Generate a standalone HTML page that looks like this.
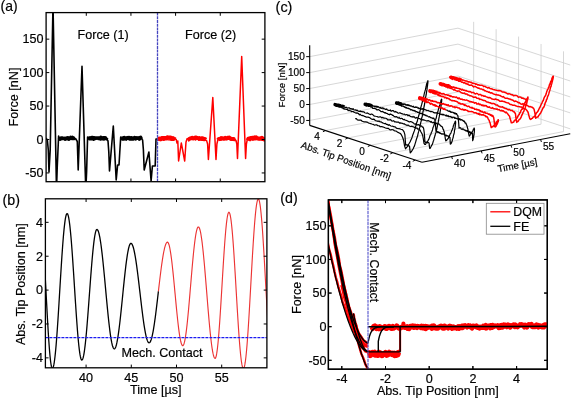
<!DOCTYPE html>
<html><head><meta charset="utf-8"><style>
html,body{margin:0;padding:0;background:#fff;}
svg{display:block;will-change:transform;}
text{font-family:"Liberation Sans", sans-serif;stroke:currentColor;stroke-width:0.18px;}
</style></head><body>
<svg width="571" height="399" viewBox="0 0 571 399">
<rect width="571" height="399" fill="#fff"/>
<clipPath id="ca"><rect x="46.1" y="12.6" width="218.79999999999998" height="169.1"/></clipPath>
<g clip-path="url(#ca)">
<path d="M45.6 138 L47.3 139.5 L48.3 150 L49 172 L50.2 150 L53 5 L56.5 190 L57.2 168 L58.6 136 L59.2 137.68 L59.8 138.29 L60.4 137.94 L61 138.41 L61.6 138.45 L62.2 137.33 L62.8 137.23 L63.4 138.87 L64 137.72 L64.6 137.67 L65.2 139.19 L65.8 138.14 L66.4 138.87 L67 138.15 L67.6 138.48 L68.2 137.5 L68.8 138.47 L69.4 138.94 L70 138.25 L70.6 138.68 L71.2 138.54 L71.8 137.33 L72.4 138.72 L73 138.38 L73.6 137.8 L74.2 137.26 L74.8 138.93 L75.5 138.5 L77.3 141.5 L78.2 170 L82 66.3 L85.8 190 L86.6 172 L87.6 137 L88.2 138.15 L88.8 138.64 L89.4 138.96 L90 138.63 L90.6 139.04 L91.2 137.99 L91.8 138.8 L92.4 138.09 L93 139.07 L93.6 138.96 L94.2 137.39 L94.8 137.47 L95.4 137.63 L96 139.13 L96.6 138.07 L97.2 138.45 L97.8 137.8 L98.4 138.21 L99 137.97 L99.6 137.9 L100.2 138.37 L100.8 138.37 L101.4 139.01 L102 138.56 L102.6 139.06 L103.2 138.91 L103.8 139.18 L104.4 138.54 L105 137.53 L105.6 138.92 L106.2 139.13 L106.8 139.01 L108 141 L108.8 152 L109.5 171 L113.3 126 L116.2 180 L117.6 165 L119 165 L120.7 137 L121.3 138.34 L121.9 138.63 L122.5 137.62 L123.1 138.86 L123.7 138.35 L124.3 137.77 L124.9 137.33 L125.5 138.91 L126.1 139.18 L126.7 137.38 L127.3 138.8 L127.9 138.02 L128.5 137.5 L129.1 137.79 L129.7 138.74 L130.3 138.95 L130.9 137.29 L131.5 138.43 L132.1 137.29 L132.7 138.64 L133.3 137.86 L133.9 138.96 L134.5 139.16 L135.1 138.21 L135.7 139.2 L136.3 137.82 L136.9 137.35 L137.5 138.4 L138.1 137.26 L138.7 137.59 L139.3 138.02 L139.9 138.42 L140.5 137.51 L141.1 137.28 L141.7 138.94 L142.6 140 L143.4 150 L144.2 170 L148.9 152 L151.1 181 L152.4 166 L155.2 166 L156 139 L157.6 139" fill="none" stroke="#000" stroke-width="1.6" stroke-linejoin="round" />
<path d="M59.3 137.96 L59.9 139.13 L60.5 139.01 L61.1 138.08 L61.7 138.23 L62.3 138.34 L62.9 138.56 L63.5 138.47 L64.1 138.41 L64.7 138.52 L65.3 139.09 L65.9 138.31 L66.5 138.18 L67.1 138.7 L67.7 137.83 L68.3 137.94 L68.9 139.16 L69.5 138.34 L70.1 138.39 L70.7 137.42 L71.3 138.15 L71.9 138.44 L72.5 137.44 L73.1 138.51 L73.7 138.54 L74.3 137.51" fill="none" stroke="#000" stroke-width="3.6" stroke-linejoin="round" />
<path d="M88.3 138.53 L88.9 138.24 L89.5 138.62 L90.1 138.03 L90.7 138.67 L91.3 138.73 L91.9 137.44 L92.5 137.51 L93.1 138.62 L93.7 139.13 L94.3 137.85 L94.9 138.22 L95.5 138.47 L96.1 137.98 L96.7 138.06 L97.3 137.96 L97.9 138.06 L98.5 138.47 L99.1 137.94 L99.7 138.08 L100.3 138.79 L100.9 137.45 L101.5 138.42 L102.1 138.72 L102.7 137.96 L103.3 137.8 L103.9 138.85 L104.5 137.83 L105.1 137.74 L105.7 138.18 L106.3 138.66 L106.9 137.58" fill="none" stroke="#000" stroke-width="3.6" stroke-linejoin="round" />
<path d="M121.4 137.98 L122 138 L122.6 138.9 L123.2 138.19 L123.8 138.94 L124.4 137.7 L125 138.01 L125.6 138.57 L126.2 138.99 L126.8 138.21 L127.4 137.81 L128 137.62 L128.6 138.35 L129.2 137.74 L129.8 138.85 L130.4 138.91 L131 137.73 L131.6 137.9 L132.2 138.85 L132.8 138.56 L133.4 138.85 L134 138.02 L134.6 137.63 L135.2 137.93 L135.8 138.83 L136.4 137.89 L137 138.02 L137.6 138.15 L138.2 138.16 L138.8 138.14 L139.4 139.06 L140 137.68 L140.6 137.41 L141.2 139.1" fill="none" stroke="#000" stroke-width="3.6" stroke-linejoin="round" />
<path d="M157.8 139 L158.4 139.99 L160 140.27 L161.6 138.83 L163.2 140.17 L164.8 140.11 L166.4 138.28 L168 139.64 L169.6 139.88 L171.2 139.42 L172.8 139.05 L174.4 138.45 L176.2 139.5 L177 143 L177.8 141 L178.6 161 L181.3 143 L184.7 161 L186 142 L187 139 L187.6 138.79 L189.2 138.49 L190.8 138.08 L192.4 139.43 L194 138.65 L195.6 140.01 L197.2 138.02 L198.8 140.25 L200.4 139.7 L202 140.3 L203.6 140.23 L205.2 140.24 L206.6 140.6 L207.6 144 L208.4 159.4 L212.8 97.5 L216 159.4 L216.9 144 L217.8 140 L218.4 139.4 L220 137.93 L221.6 139.84 L223.2 138.35 L224.8 138.68 L226.4 139.62 L228 139.26 L229.6 138.98 L231.2 140.34 L232.8 139.49 L234.4 138.79 L236 140.5 L236.8 144 L237.5 158.5 L241.7 56.5 L245.6 158.5 L246.4 144 L247.3 139.5 L247.8 138.36 L249.4 139.94 L251 138.94 L252.6 139.73 L254.2 138.61 L255.8 138.21 L257.4 139.09 L259 139.82 L260.6 138.15 L262.2 139.76 L263.8 140.1 L265.4 139.8" fill="none" stroke="#f00" stroke-width="1.5" stroke-linejoin="round" />
<path d="M158.6 140.65 L159.4 138.67 L160.2 139.2 L161 139.27 L161.8 137.94 L162.6 138.08 L163.4 137.95 L164.2 138.21 L165 137.98 L165.8 138 L166.6 138.39 L167.4 137.3 L168.2 137.4 L169 137.54 L169.8 137.6 L170.6 137.61 L171.4 139 L172.2 138.98 L173 138.08 L173.8 138.89 L174.6 138.92 L175.4 139.35" fill="none" stroke="#f00" stroke-width="4.0" stroke-linejoin="round" />
<path d="M187.4 139.99 L188.2 139.61 L189 139.2 L189.8 138.64 L190.6 138.2 L191.4 138.24 L192.2 137.82 L193 138.31 L193.8 138.45 L194.6 137.91 L195.4 137.45 L196.2 137.56 L197 137.82 L197.8 138.16 L198.6 138.44 L199.4 137.93 L200.2 138.59 L201 138.43 L201.8 138.28 L202.6 138.33 L203.4 138.68 L204.2 139.17 L205 139.03 L205.8 139.78" fill="none" stroke="#f00" stroke-width="4.0" stroke-linejoin="round" />
<path d="M218 140.15 L218.8 139.02 L219.6 139.1 L220.4 139.07 L221.2 138 L222 138.33 L222.8 138.2 L223.6 138.73 L224.4 138.73 L225.2 137.88 L226 138.57 L226.8 138.41 L227.6 137.67 L228.4 137.98 L229.2 137.55 L230 138.59 L230.8 138.47 L231.6 138.91 L232.4 138.92 L233.2 138.93 L234 139.24 L234.8 139.29 L235.6 139.06" fill="none" stroke="#f00" stroke-width="4.0" stroke-linejoin="round" />
<path d="M247.6 140.32 L248.4 138.68 L249.2 138.54 L250 139.18 L250.8 137.96 L251.6 137.86 L252.4 137.74 L253.2 138.73 L254 137.66 L254.8 137.38 L255.6 138.49 L256.4 137.47 L257.2 138.49 L258 138.28 L258.8 138.56 L259.6 138.79 L260.4 138.37 L261.2 138.8 L262 137.88 L262.8 139.09 L263.6 138.96 L264.4 139.54 L265.2 139.14" fill="none" stroke="#f00" stroke-width="4.0" stroke-linejoin="round" />
</g>
<line x1="157.5" y1="12.6" x2="157.5" y2="181.7" stroke="#4646c0" stroke-width="1.3" stroke-dasharray="3 0.7"/>
<rect x="46.1" y="12.6" width="218.8" height="169.1" fill="none" stroke="#000" stroke-width="1.3"/>
<line x1="86.29" y1="181.7" x2="86.29" y2="178.5" stroke="#000" stroke-width="1.0" />
<line x1="86.29" y1="12.6" x2="86.29" y2="15.8" stroke="#000" stroke-width="1.0" />
<line x1="130.94" y1="181.7" x2="130.94" y2="178.5" stroke="#000" stroke-width="1.0" />
<line x1="130.94" y1="12.6" x2="130.94" y2="15.8" stroke="#000" stroke-width="1.0" />
<line x1="175.59" y1="181.7" x2="175.59" y2="178.5" stroke="#000" stroke-width="1.0" />
<line x1="175.59" y1="12.6" x2="175.59" y2="15.8" stroke="#000" stroke-width="1.0" />
<line x1="220.25" y1="181.7" x2="220.25" y2="178.5" stroke="#000" stroke-width="1.0" />
<line x1="220.25" y1="12.6" x2="220.25" y2="15.8" stroke="#000" stroke-width="1.0" />
<line x1="46.1" y1="39.15" x2="49.3" y2="39.15" stroke="#000" stroke-width="1.0" />
<line x1="264.9" y1="39.15" x2="261.7" y2="39.15" stroke="#000" stroke-width="1.0" />
<line x1="46.1" y1="72.6" x2="49.3" y2="72.6" stroke="#000" stroke-width="1.0" />
<line x1="264.9" y1="72.6" x2="261.7" y2="72.6" stroke="#000" stroke-width="1.0" />
<line x1="46.1" y1="106.05" x2="49.3" y2="106.05" stroke="#000" stroke-width="1.0" />
<line x1="264.9" y1="106.05" x2="261.7" y2="106.05" stroke="#000" stroke-width="1.0" />
<line x1="46.1" y1="139.5" x2="49.3" y2="139.5" stroke="#000" stroke-width="1.0" />
<line x1="264.9" y1="139.5" x2="261.7" y2="139.5" stroke="#000" stroke-width="1.0" />
<line x1="46.1" y1="172.95" x2="49.3" y2="172.95" stroke="#000" stroke-width="1.0" />
<line x1="264.9" y1="172.95" x2="261.7" y2="172.95" stroke="#000" stroke-width="1.0" />
<text x="43.4" y="43.45" font-size="12.6" text-anchor="end" fill="#000" stroke="#000" >150</text>
<text x="43.4" y="76.9" font-size="12.6" text-anchor="end" fill="#000" stroke="#000" >100</text>
<text x="43.4" y="110.35" font-size="12.6" text-anchor="end" fill="#000" stroke="#000" >50</text>
<text x="43.4" y="143.8" font-size="12.6" text-anchor="end" fill="#000" stroke="#000" >0</text>
<text x="43.4" y="177.25" font-size="12.6" text-anchor="end" fill="#000" stroke="#000" >-50</text>
<text x="18" y="97" font-size="12.6" text-anchor="middle" fill="#000" stroke="#000" transform="rotate(-90 18 97)">Force [nN]</text>
<text x="77.6" y="38.9" font-size="12.6" text-anchor="start" fill="#000" stroke="#000" >Force (1)</text>
<text x="185.1" y="38.9" font-size="12.6" text-anchor="start" fill="#000" stroke="#000" >Force (2)</text>
<text x="0.6" y="10.9" font-size="14.2" text-anchor="start" fill="#000" stroke="#000" textLength="17" lengthAdjust="spacingAndGlyphs">(a)</text>
<clipPath id="cb"><rect x="45.4" y="198.8" width="221.49999999999997" height="169.0"/></clipPath>
<g clip-path="url(#cb)">
<path d="M44.5 263.25 L44.86 269.84 L45.22 276.59 L45.58 283.44 L45.94 290.35 L46.3 297.26 L46.67 304.12 L47.03 310.87 L47.39 317.45 L47.75 323.83 L48.11 329.94 L48.47 335.74 L48.84 341.19 L49.2 346.24 L49.56 350.86 L49.92 354.99 L50.28 358.63 L50.64 361.73 L51.01 364.27 L51.37 366.23 L51.73 367.6 L52.09 368.36 L52.45 368.52 L52.81 368.17 L53.18 367.37 L53.54 366.11 L53.9 364.41 L54.26 362.27 L54.62 359.71 L54.98 356.74 L55.34 353.38 L55.71 349.65 L56.07 345.57 L56.43 341.17 L56.79 336.46 L57.15 331.49 L57.51 326.28 L57.88 320.86 L58.24 315.26 L58.6 309.52 L58.96 303.67 L59.32 297.74 L59.68 291.78 L60.05 285.81 L60.41 279.87 L60.77 273.99 L61.13 268.22 L61.49 262.59 L61.85 257.12 L62.22 251.85 L62.58 246.82 L62.94 242.05 L63.3 237.57 L63.66 233.4 L64.02 229.58 L64.39 226.13 L64.75 223.06 L65.11 220.39 L65.47 218.15 L65.83 216.34 L66.19 214.97 L66.56 214.05 L66.92 213.59 L67.28 213.59 L67.64 214.02 L68 214.89 L68.36 216.18 L68.73 217.9 L69.09 220.02 L69.45 222.54 L69.81 225.44 L70.17 228.71 L70.53 232.32 L70.9 236.25 L71.26 240.49 L71.62 245 L71.98 249.76 L72.34 254.74 L72.7 259.9 L73.06 265.23 L73.43 270.69 L73.79 276.24 L74.15 281.86 L74.51 287.5 L74.87 293.14 L75.23 298.75 L75.6 304.28 L75.96 309.71 L76.32 315 L76.68 320.12 L77.04 325.05 L77.4 329.75 L77.77 334.19 L78.13 338.35 L78.49 342.21 L78.85 345.74 L79.21 348.91 L79.57 351.72 L79.94 354.14 L80.3 356.16 L80.66 357.77 L81.02 358.96 L81.38 359.72 L81.74 360.05 L82.11 359.96 L82.47 359.5 L82.83 358.67 L83.19 357.48 L83.55 355.94 L83.91 354.04 L84.28 351.82 L84.64 349.27 L85 346.41 L85.36 343.26 L85.72 339.84 L86.08 336.16 L86.45 332.24 L86.81 328.12 L87.17 323.8 L87.53 319.32 L87.89 314.7 L88.25 309.97 L88.62 305.16 L88.98 300.28 L89.34 295.37 L89.7 290.46 L90.06 285.58 L90.42 280.74 L90.78 275.99 L91.15 271.34 L91.51 266.82 L91.87 262.46 L92.23 258.29 L92.59 254.32 L92.95 250.58 L93.32 247.09 L93.68 243.87 L94.04 240.93 L94.4 238.31 L94.76 236 L95.12 234.02 L95.49 232.39 L95.85 231.11 L96.21 230.19 L96.57 229.64 L96.93 229.45 L97.29 229.58 L97.66 229.97 L98.02 230.6 L98.38 231.49 L98.74 232.62 L99.1 234 L99.46 235.61 L99.83 237.45 L100.19 239.52 L100.55 241.79 L100.91 244.27 L101.27 246.94 L101.63 249.8 L102 252.82 L102.36 255.99 L102.72 259.31 L103.08 262.76 L103.44 266.32 L103.8 269.97 L104.17 273.71 L104.53 277.52 L104.89 281.37 L105.25 285.26 L105.61 289.17 L105.97 293.07 L106.34 296.96 L106.7 300.82 L107.06 304.62 L107.42 308.36 L107.78 312.02 L108.14 315.58 L108.5 319.03 L108.87 322.34 L109.23 325.52 L109.59 328.54 L109.95 331.39 L110.31 334.06 L110.67 336.54 L111.04 338.82 L111.4 340.88 L111.76 342.72 L112.12 344.34 L112.48 345.71 L112.84 346.85 L113.21 347.73 L113.57 348.37 L113.93 348.75 L114.29 348.88 L114.65 348.76 L115.01 348.39 L115.38 347.78 L115.74 346.93 L116.1 345.84 L116.46 344.51 L116.82 342.97 L117.18 341.2 L117.55 339.22 L117.91 337.05 L118.27 334.68 L118.63 332.13 L118.99 329.42 L119.35 326.54 L119.72 323.53 L120.08 320.39 L120.44 317.14 L120.8 313.78 L121.16 310.35 L121.52 306.85 L121.89 303.3 L122.25 299.71 L122.61 296.11 L122.97 292.51 L123.33 288.93 L123.69 285.38 L124.06 281.88 L124.42 278.44 L124.78 275.09 L125.14 271.84 L125.5 268.7 L125.86 265.68 L126.22 262.81 L126.59 260.1 L126.95 257.55 L127.31 255.18 L127.67 253 L128.03 251.03 L128.39 249.26 L128.76 247.71 L129.12 246.39 L129.48 245.3 L129.84 244.45 L130.2 243.84 L130.56 243.47 L130.93 243.35 L131.29 243.44 L131.65 243.73 L132.01 244.22 L132.37 244.89 L132.73 245.76 L133.1 246.8 L133.46 248.03 L133.82 249.44 L134.18 251.01 L134.54 252.75 L134.9 254.65 L135.27 256.69 L135.63 258.88 L135.99 261.21 L136.35 263.65 L136.71 266.21 L137.07 268.88 L137.44 271.64 L137.8 274.49 L138.16 277.41 L138.52 280.38 L138.88 283.41 L139.24 286.48 L139.61 289.57 L139.97 292.68 L140.33 295.78 L140.69 298.88 L141.05 301.95 L141.41 304.99 L141.78 307.98 L142.14 310.92 L142.5 313.78 L142.86 316.57 L143.22 319.26 L143.58 321.85 L143.94 324.32 L144.31 326.68 L144.67 328.9 L145.03 330.98 L145.39 332.92 L145.75 334.7 L146.11 336.32 L146.48 337.76 L146.84 339.04 L147.2 340.13 L147.56 341.04 L147.92 341.76 L148.28 342.29 L148.65 342.63 L149.01 342.78 L149.37 342.73 L149.73 342.49 L150.09 342.06 L150.45 341.43 L150.82 340.62 L151.18 339.63 L151.54 338.45 L151.9 337.1 L152.26 335.58 L152.62 333.89 L152.99 332.05 L153.35 330.05 L153.71 327.91 L154.07 325.63 L154.43 323.23 L154.79 320.71 L155.16 318.08 L155.52 315.35 L155.88 312.53 L156.24 309.64 L156.6 306.68 L156.96 303.67 L157.33 300.61 L157.69 297.52 L158.05 294.42 L158.41 291.3" fill="none" stroke="#000" stroke-width="1.3" stroke-linejoin="round" />
<path d="M158.41 291.3 L158.77 288.19 L159.13 285.1 L159.5 282.04 L159.86 279.01 L160.22 276.04 L160.58 273.13 L160.94 270.29 L161.3 267.54 L161.66 264.89 L162.03 262.34 L162.39 259.9 L162.75 257.59 L163.11 255.41 L163.47 253.38 L163.83 251.5 L164.2 249.77 L164.56 248.2 L164.92 246.81 L165.28 245.59 L165.64 244.55 L166 243.69 L166.37 243.02 L166.73 242.54 L167.09 242.26 L167.45 242.16 L167.81 242.3 L168.17 242.73 L168.54 243.44 L168.9 244.43 L169.26 245.7 L169.62 247.23 L169.98 249.01 L170.34 251.05 L170.71 253.32 L171.07 255.82 L171.43 258.53 L171.79 261.43 L172.15 264.51 L172.51 267.76 L172.88 271.15 L173.24 274.66 L173.6 278.29 L173.96 281.99 L174.32 285.77 L174.68 289.59 L175.05 293.43 L175.41 297.28 L175.77 301.1 L176.13 304.89 L176.49 308.62 L176.85 312.26 L177.22 315.81 L177.58 319.23 L177.94 322.51 L178.3 325.64 L178.66 328.59 L179.02 331.35 L179.38 333.9 L179.75 336.23 L180.11 338.32 L180.47 340.17 L180.83 341.77 L181.19 343.1 L181.55 344.16 L181.92 344.94 L182.28 345.44 L182.64 345.65 L183 345.58 L183.36 345.18 L183.72 344.48 L184.09 343.47 L184.45 342.16 L184.81 340.56 L185.17 338.67 L185.53 336.5 L185.89 334.07 L186.26 331.38 L186.62 328.46 L186.98 325.32 L187.34 321.97 L187.7 318.43 L188.06 314.72 L188.43 310.86 L188.79 306.88 L189.15 302.78 L189.51 298.6 L189.87 294.35 L190.23 290.06 L190.6 285.75 L190.96 281.44 L191.32 277.16 L191.68 272.93 L192.04 268.76 L192.4 264.69 L192.77 260.74 L193.13 256.91 L193.49 253.25 L193.85 249.75 L194.21 246.45 L194.57 243.36 L194.94 240.5 L195.3 237.88 L195.66 235.51 L196.02 233.41 L196.38 231.59 L196.74 230.06 L197.1 228.82 L197.47 227.89 L197.83 227.27 L198.19 226.95 L198.55 226.95 L198.91 227.25 L199.27 227.86 L199.64 228.76 L200 229.96 L200.36 231.45 L200.72 233.22 L201.08 235.26 L201.44 237.57 L201.81 240.13 L202.17 242.93 L202.53 245.97 L202.89 249.22 L203.25 252.67 L203.61 256.3 L203.98 260.1 L204.34 264.05 L204.7 268.13 L205.06 272.33 L205.42 276.62 L205.78 280.98 L206.15 285.4 L206.51 289.85 L206.87 294.32 L207.23 298.77 L207.59 303.2 L207.95 307.58 L208.32 311.89 L208.68 316.11 L209.04 320.22 L209.4 324.21 L209.76 328.05 L210.12 331.72 L210.49 335.22 L210.85 338.52 L211.21 341.61 L211.57 344.47 L211.93 347.1 L212.29 349.47 L212.66 351.58 L213.02 353.42 L213.38 354.98 L213.74 356.25 L214.1 357.22 L214.46 357.9 L214.82 358.28 L215.19 358.35 L215.55 357.98 L215.91 357.12 L216.27 355.78 L216.63 353.96 L216.99 351.68 L217.36 348.95 L217.72 345.79 L218.08 342.22 L218.44 338.27 L218.8 333.96 L219.16 329.32 L219.53 324.39 L219.89 319.19 L220.25 313.76 L220.61 308.15 L220.97 302.37 L221.33 296.48 L221.7 290.52 L222.06 284.52 L222.42 278.53 L222.78 272.58 L223.14 266.72 L223.5 260.98 L223.87 255.4 L224.23 250.03 L224.59 244.9 L224.95 240.03 L225.31 235.48 L225.67 231.25 L226.04 227.4 L226.4 223.93 L226.76 220.87 L227.12 218.25 L227.48 216.09 L227.84 214.38 L228.21 213.16 L228.57 212.42 L228.93 212.18 L229.29 212.42 L229.65 213.14 L230.01 214.34 L230.38 216 L230.74 218.13 L231.1 220.7 L231.46 223.7 L231.82 227.11 L232.18 230.91 L232.54 235.07 L232.91 239.58 L233.27 244.4 L233.63 249.51 L233.99 254.86 L234.35 260.44 L234.71 266.2 L235.08 272.1 L235.44 278.12 L235.8 284.22 L236.16 290.35 L236.52 296.49 L236.88 302.58 L237.25 308.6 L237.61 314.51 L237.97 320.27 L238.33 325.85 L238.69 331.2 L239.05 336.31 L239.42 341.13 L239.78 345.63 L240.14 349.8 L240.5 353.6 L240.86 357.01 L241.22 360.01 L241.59 362.58 L241.95 364.71 L242.31 366.37 L242.67 367.57 L243.03 368.29 L243.39 368.53 L243.76 368.29 L244.12 367.55 L244.48 366.33 L244.84 364.63 L245.2 362.46 L245.56 359.83 L245.93 356.77 L246.29 353.28 L246.65 349.38 L247.01 345.11 L247.37 340.48 L247.73 335.52 L248.1 330.26 L248.46 324.73 L248.82 318.97 L249.18 313 L249.54 306.86 L249.9 300.58 L250.26 294.21 L250.63 287.78 L250.99 281.33 L251.35 274.89 L251.71 268.5 L252.07 262.19 L252.43 256.02 L252.8 250 L253.16 244.18 L253.52 238.59 L253.88 233.26 L254.24 228.23 L254.6 223.51 L254.97 219.15 L255.33 215.16 L255.69 211.56 L256.05 208.39 L256.41 205.65 L256.77 203.37 L257.14 201.55 L257.5 200.2 L257.86 199.35 L258.22 198.98 L258.58 199.1 L258.94 199.74 L259.31 200.87 L259.67 202.49 L260.03 204.6 L260.39 207.18 L260.75 210.22 L261.11 213.69 L261.48 217.59 L261.84 221.89 L262.2 226.55 L262.56 231.56 L262.92 236.89 L263.28 242.5 L263.65 248.36 L264.01 254.44 L264.37 260.71 L264.73 267.12 L265.09 273.64 L265.45 280.24 L265.82 286.86 L266.18 293.49 L266.54 300.06 L266.9 306.56 L267.26 312.94 L267.62 319.16" fill="none" stroke="#ec3434" stroke-width="1.15" stroke-linejoin="round" />
</g>
<line x1="45.4" y1="337.6" x2="266.9" y2="337.6" stroke="#1c1cf0" stroke-width="1.3" stroke-dasharray="3 1"/>
<rect x="45.4" y="198.8" width="221.5" height="169" fill="none" stroke="#000" stroke-width="1.3"/>
<line x1="86.08" y1="367.8" x2="86.08" y2="364.6" stroke="#000" stroke-width="1.0" />
<line x1="86.08" y1="198.8" x2="86.08" y2="202" stroke="#000" stroke-width="1.0" />
<line x1="131.29" y1="367.8" x2="131.29" y2="364.6" stroke="#000" stroke-width="1.0" />
<line x1="131.29" y1="198.8" x2="131.29" y2="202" stroke="#000" stroke-width="1.0" />
<line x1="176.49" y1="367.8" x2="176.49" y2="364.6" stroke="#000" stroke-width="1.0" />
<line x1="176.49" y1="198.8" x2="176.49" y2="202" stroke="#000" stroke-width="1.0" />
<line x1="221.7" y1="367.8" x2="221.7" y2="364.6" stroke="#000" stroke-width="1.0" />
<line x1="221.7" y1="198.8" x2="221.7" y2="202" stroke="#000" stroke-width="1.0" />
<line x1="45.4" y1="222.34" x2="48.6" y2="222.34" stroke="#000" stroke-width="1.0" />
<line x1="266.9" y1="222.34" x2="263.7" y2="222.34" stroke="#000" stroke-width="1.0" />
<line x1="45.4" y1="256.22" x2="48.6" y2="256.22" stroke="#000" stroke-width="1.0" />
<line x1="266.9" y1="256.22" x2="263.7" y2="256.22" stroke="#000" stroke-width="1.0" />
<line x1="45.4" y1="290.1" x2="48.6" y2="290.1" stroke="#000" stroke-width="1.0" />
<line x1="266.9" y1="290.1" x2="263.7" y2="290.1" stroke="#000" stroke-width="1.0" />
<line x1="45.4" y1="323.98" x2="48.6" y2="323.98" stroke="#000" stroke-width="1.0" />
<line x1="266.9" y1="323.98" x2="263.7" y2="323.98" stroke="#000" stroke-width="1.0" />
<line x1="45.4" y1="357.86" x2="48.6" y2="357.86" stroke="#000" stroke-width="1.0" />
<line x1="266.9" y1="357.86" x2="263.7" y2="357.86" stroke="#000" stroke-width="1.0" />
<text x="43" y="226.64" font-size="12.6" text-anchor="end" fill="#000" stroke="#000" >4</text>
<text x="43" y="260.52" font-size="12.6" text-anchor="end" fill="#000" stroke="#000" >2</text>
<text x="43" y="294.4" font-size="12.6" text-anchor="end" fill="#000" stroke="#000" >0</text>
<text x="43" y="328.28" font-size="12.6" text-anchor="end" fill="#000" stroke="#000" >-2</text>
<text x="43" y="362.16" font-size="12.6" text-anchor="end" fill="#000" stroke="#000" >-4</text>
<text x="86.08" y="381.6" font-size="12.6" text-anchor="middle" fill="#000" stroke="#000" >40</text>
<text x="131.29" y="381.6" font-size="12.6" text-anchor="middle" fill="#000" stroke="#000" >45</text>
<text x="176.49" y="381.6" font-size="12.6" text-anchor="middle" fill="#000" stroke="#000" >50</text>
<text x="221.7" y="381.6" font-size="12.6" text-anchor="middle" fill="#000" stroke="#000" >55</text>
<text x="24.8" y="284.2" font-size="12.6" text-anchor="middle" fill="#000" stroke="#000" transform="rotate(-90 24.8 284.2)">Abs. Tip Position [nm]</text>
<text x="155.7" y="394.2" font-size="12.6" text-anchor="middle" fill="#000" stroke="#000" >Time [µs]</text>
<text x="121.4" y="357.2" font-size="12.6" text-anchor="start" fill="#000" stroke="#000" >Mech. Contact</text>
<text x="2.6" y="204.8" font-size="14.2" text-anchor="start" fill="#000" stroke="#000" textLength="17.4" lengthAdjust="spacingAndGlyphs">(b)</text>
<rect x="328.4" y="199.9" width="218.9" height="169.3" fill="none" stroke="#000" stroke-width="1.3"/>
<line x1="341.8" y1="369.2" x2="341.8" y2="366" stroke="#000" stroke-width="1.0" />
<line x1="341.8" y1="199.9" x2="341.8" y2="203.1" stroke="#000" stroke-width="1.0" />
<line x1="385.5" y1="369.2" x2="385.5" y2="366" stroke="#000" stroke-width="1.0" />
<line x1="385.5" y1="199.9" x2="385.5" y2="203.1" stroke="#000" stroke-width="1.0" />
<line x1="429.2" y1="369.2" x2="429.2" y2="366" stroke="#000" stroke-width="1.0" />
<line x1="429.2" y1="199.9" x2="429.2" y2="203.1" stroke="#000" stroke-width="1.0" />
<line x1="472.9" y1="369.2" x2="472.9" y2="366" stroke="#000" stroke-width="1.0" />
<line x1="472.9" y1="199.9" x2="472.9" y2="203.1" stroke="#000" stroke-width="1.0" />
<line x1="516.6" y1="369.2" x2="516.6" y2="366" stroke="#000" stroke-width="1.0" />
<line x1="516.6" y1="199.9" x2="516.6" y2="203.1" stroke="#000" stroke-width="1.0" />
<line x1="328.4" y1="225.82" x2="331.6" y2="225.82" stroke="#000" stroke-width="1.0" />
<line x1="547.3" y1="225.82" x2="544.1" y2="225.82" stroke="#000" stroke-width="1.0" />
<line x1="328.4" y1="259.45" x2="331.6" y2="259.45" stroke="#000" stroke-width="1.0" />
<line x1="547.3" y1="259.45" x2="544.1" y2="259.45" stroke="#000" stroke-width="1.0" />
<line x1="328.4" y1="293.07" x2="331.6" y2="293.07" stroke="#000" stroke-width="1.0" />
<line x1="547.3" y1="293.07" x2="544.1" y2="293.07" stroke="#000" stroke-width="1.0" />
<line x1="328.4" y1="326.7" x2="331.6" y2="326.7" stroke="#000" stroke-width="1.0" />
<line x1="547.3" y1="326.7" x2="544.1" y2="326.7" stroke="#000" stroke-width="1.0" />
<line x1="328.4" y1="360.32" x2="331.6" y2="360.32" stroke="#000" stroke-width="1.0" />
<line x1="547.3" y1="360.32" x2="544.1" y2="360.32" stroke="#000" stroke-width="1.0" />
<text x="326.6" y="230.22" font-size="12.6" text-anchor="end" fill="#000" stroke="#000" >150</text>
<text x="326.6" y="263.85" font-size="12.6" text-anchor="end" fill="#000" stroke="#000" >100</text>
<text x="326.6" y="297.47" font-size="12.6" text-anchor="end" fill="#000" stroke="#000" >50</text>
<text x="326.6" y="331.1" font-size="12.6" text-anchor="end" fill="#000" stroke="#000" >0</text>
<text x="326.6" y="364.72" font-size="12.6" text-anchor="end" fill="#000" stroke="#000" >-50</text>
<text x="341.8" y="383.2" font-size="12.6" text-anchor="middle" fill="#000" stroke="#000" >-4</text>
<text x="385.5" y="383.2" font-size="12.6" text-anchor="middle" fill="#000" stroke="#000" >-2</text>
<text x="429.2" y="383.2" font-size="12.6" text-anchor="middle" fill="#000" stroke="#000" >0</text>
<text x="472.9" y="383.2" font-size="12.6" text-anchor="middle" fill="#000" stroke="#000" >2</text>
<text x="516.6" y="383.2" font-size="12.6" text-anchor="middle" fill="#000" stroke="#000" >4</text>
<text x="437.8" y="394.8" font-size="12.6" text-anchor="middle" fill="#000" stroke="#000" >Abs. Tip Position [nm]</text>
<text x="300.5" y="284.5" font-size="12.6" text-anchor="middle" fill="#000" stroke="#000" transform="rotate(-90 300.5 284.5)">Force [nN]</text>
<text x="280.3" y="203.4" font-size="14.2" text-anchor="start" fill="#000" stroke="#000" textLength="17.4" lengthAdjust="spacingAndGlyphs">(d)</text>
<text x="275.6" y="12.2" font-size="14.2" text-anchor="start" fill="#000" stroke="#000" textLength="16.8" lengthAdjust="spacingAndGlyphs">(c)</text>
<line x1="309.7" y1="120.45" x2="457.95" y2="91.95" stroke="#cdcdcd" stroke-width="0.8" />
<line x1="309.7" y1="104.5" x2="457.95" y2="76" stroke="#cdcdcd" stroke-width="0.8" />
<line x1="309.7" y1="88.55" x2="457.95" y2="60.05" stroke="#cdcdcd" stroke-width="0.8" />
<line x1="309.7" y1="72.6" x2="457.95" y2="44.1" stroke="#cdcdcd" stroke-width="0.8" />
<line x1="309.7" y1="56.65" x2="457.95" y2="28.15" stroke="#cdcdcd" stroke-width="0.8" />
<line x1="457.95" y1="91.95" x2="570.25" y2="128.85" stroke="#cdcdcd" stroke-width="0.8" />
<line x1="457.95" y1="76" x2="570.25" y2="112.9" stroke="#cdcdcd" stroke-width="0.8" />
<line x1="457.95" y1="60.05" x2="570.25" y2="96.95" stroke="#cdcdcd" stroke-width="0.8" />
<line x1="457.95" y1="44.1" x2="570.25" y2="81" stroke="#cdcdcd" stroke-width="0.8" />
<line x1="457.95" y1="28.15" x2="570.25" y2="65.05" stroke="#cdcdcd" stroke-width="0.8" />
<line x1="473.67" y1="102.06" x2="473.67" y2="21.83" stroke="#cdcdcd" stroke-width="0.8" />
<line x1="496.13" y1="109.44" x2="496.13" y2="29.21" stroke="#cdcdcd" stroke-width="0.8" />
<line x1="518.59" y1="116.82" x2="518.59" y2="36.59" stroke="#cdcdcd" stroke-width="0.8" />
<line x1="541.05" y1="124.2" x2="541.05" y2="43.97" stroke="#cdcdcd" stroke-width="0.8" />
<line x1="563.51" y1="131.58" x2="563.51" y2="51.35" stroke="#cdcdcd" stroke-width="0.8" />
<line x1="325.42" y1="130.56" x2="473.67" y2="102.06" stroke="#cdcdcd" stroke-width="0.8" />
<line x1="347.88" y1="137.94" x2="496.13" y2="109.44" stroke="#cdcdcd" stroke-width="0.8" />
<line x1="370.34" y1="145.32" x2="518.59" y2="116.82" stroke="#cdcdcd" stroke-width="0.8" />
<line x1="392.8" y1="152.7" x2="541.05" y2="124.2" stroke="#cdcdcd" stroke-width="0.8" />
<line x1="415.26" y1="160.08" x2="563.51" y2="131.58" stroke="#cdcdcd" stroke-width="0.8" />
<line x1="309.7" y1="125.39" x2="309.7" y2="45.17" stroke="#000" stroke-width="1.1" />
<line x1="309.7" y1="125.39" x2="422" y2="162.29" stroke="#000" stroke-width="1.1" />
<line x1="422" y1="162.29" x2="570.25" y2="133.79" stroke="#000" stroke-width="1.1" />
<line x1="306.2" y1="120.45" x2="309.7" y2="120.45" stroke="#000" stroke-width="1.0" />
<text x="304.8" y="123.85" font-size="10.1" text-anchor="end" fill="#000" stroke="#000" >-50</text>
<line x1="306.2" y1="104.5" x2="309.7" y2="104.5" stroke="#000" stroke-width="1.0" />
<text x="304.8" y="107.9" font-size="10.1" text-anchor="end" fill="#000" stroke="#000" >0</text>
<line x1="306.2" y1="88.55" x2="309.7" y2="88.55" stroke="#000" stroke-width="1.0" />
<text x="304.8" y="91.95" font-size="10.1" text-anchor="end" fill="#000" stroke="#000" >50</text>
<line x1="306.2" y1="72.6" x2="309.7" y2="72.6" stroke="#000" stroke-width="1.0" />
<text x="304.8" y="76" font-size="10.1" text-anchor="end" fill="#000" stroke="#000" >100</text>
<line x1="306.2" y1="56.65" x2="309.7" y2="56.65" stroke="#000" stroke-width="1.0" />
<text x="304.8" y="60.05" font-size="10.1" text-anchor="end" fill="#000" stroke="#000" >150</text>
<line x1="325.42" y1="130.56" x2="322.92" y2="131.76" stroke="#000" stroke-width="1.0" />
<text x="317.12" y="139.96" font-size="10.1" text-anchor="middle" fill="#000" stroke="#000" >4</text>
<line x1="347.88" y1="137.94" x2="345.38" y2="139.14" stroke="#000" stroke-width="1.0" />
<text x="339.58" y="147.34" font-size="10.1" text-anchor="middle" fill="#000" stroke="#000" >2</text>
<line x1="370.34" y1="145.32" x2="367.84" y2="146.52" stroke="#000" stroke-width="1.0" />
<text x="362.04" y="154.72" font-size="10.1" text-anchor="middle" fill="#000" stroke="#000" >0</text>
<line x1="392.8" y1="152.7" x2="390.3" y2="153.9" stroke="#000" stroke-width="1.0" />
<text x="384.5" y="162.1" font-size="10.1" text-anchor="middle" fill="#000" stroke="#000" >-2</text>
<line x1="415.26" y1="160.08" x2="412.76" y2="161.28" stroke="#000" stroke-width="1.0" />
<text x="406.96" y="169.48" font-size="10.1" text-anchor="middle" fill="#000" stroke="#000" >-4</text>
<line x1="451.65" y1="156.59" x2="452.45" y2="159.09" stroke="#000" stroke-width="1.0" />
<text x="459.65" y="167.39" font-size="10.1" text-anchor="middle" fill="#000" stroke="#000" >40</text>
<line x1="481.3" y1="150.89" x2="482.1" y2="153.39" stroke="#000" stroke-width="1.0" />
<text x="489.3" y="161.69" font-size="10.1" text-anchor="middle" fill="#000" stroke="#000" >45</text>
<line x1="510.95" y1="145.19" x2="511.75" y2="147.69" stroke="#000" stroke-width="1.0" />
<text x="518.95" y="155.99" font-size="10.1" text-anchor="middle" fill="#000" stroke="#000" >50</text>
<line x1="540.6" y1="139.49" x2="541.4" y2="141.99" stroke="#000" stroke-width="1.0" />
<text x="548.6" y="150.29" font-size="10.1" text-anchor="middle" fill="#000" stroke="#000" >55</text>
<text x="285.3" y="85" font-size="9.6" text-anchor="middle" fill="#000" stroke="#000" transform="rotate(-90 285.3 85)">Force [nN]</text>
<text x="345" y="163.5" font-size="9.8" text-anchor="middle" fill="#000" stroke="#000" transform="rotate(19.5 345 163.5)">Abs. Tip Position [nm]</text>
<text x="518" y="168.5" font-size="9.8" text-anchor="middle" fill="#000" stroke="#000" transform="rotate(-10.5 518 168.5)">Time [µs]</text>
<path d="M355.2 118.53 L356.36 118.66 L357.52 120.02 L358.69 120.07 L359.87 120.15 L361.05 120.2 L362.23 121.23 L363.42 121.66 L364.62 121.94 L365.81 121.89 L367.01 122.09 L368.22 122.87 L369.42 123.26 L370.63 123.6 L371.83 124.01 L373.04 124.3 L374.24 125.05 L375.45 124.94 L376.65 124.76 L377.85 125.77 L379.05 125.74 L380.24 126.78 L381.43 126.53 L382.62 126.81 L383.8 127.27 L384.97 127.8 L386.14 128.19 L387.3 128.36 L388.46 128.42 L389.61 129.62 L390.74 130.03 L391.88 129.63 L393 129.78 L394.11 130.58 L395.21 131.02 L396.3 131.07 L397.38 132.09 L398.44 132.47 L399.5 133.15 L400.54 133.55 L401.57 135.14 L402.58 137.3 L403.58 140.25 L404.57 145.9 L405.54 148.8 L406.49 147.49 L407.43 146.62 L408.35 144.63 L409.26 143.25 L410.15 141.75 L411.02 139.81 L411.87 137.91 L412.7 135.18 L413.52 133 L414.31 130.9 L415.09 128.3 L415.84 125.93 L416.58 122.98 L417.29 121.27 L417.99 117.86 L418.66 116.03 L419.31 113.5 L419.94 111.29 L420.54 108.56 L421.13 106.31 L421.69 104.4 L422.23 102.34 L422.75 100 L423.24 97.84 L423.71 96.45 L424.15 94.25 L424.57 92.26 L424.97 91.19 L425.34 89.93 L425.69 88.5 L426.01 86.63 L426.31 85.48 L426.58 84.08 L426.83 83.23 L427.06 83.09 L427.25 82.44 L427.43 81.77 L427.58 81.39 L427.7 80.74 L427.8 80.74 L427.87 80.73 L427.92 80.73 L427.95 80.69 L427.96 81.06 L427.95 81.29 L427.93 81.39 L427.88 82.69 L427.82 83.34 L427.73 83.24 L427.63 84.72 L427.51 85.6 L427.37 86.39 L427.21 87.42 L427.03 89.42 L426.84 90.36 L426.63 91.65 L426.39 93.08 L426.14 94.96 L425.87 96.17 L425.59 97.46 L425.28 99.89 L424.96 101.56 L424.62 103.96 L424.27 105.75 L423.89 107.32 L423.5 110.02 L423.09 111.24 L422.67 113.36 L422.23 116.47 L421.77 117.7 L421.3 120.57 L420.81 122.35 L420.3 124.6 L419.78 127.37 L419.24 129.16 L418.69 131.4 L418.12 133.4 L417.54 136.17 L416.95 137.71 L416.34 139.51 L415.71 141.81 L415.08 143.85 L414.42 146.11 L413.76 147.33 L413.08 149.01 L412.39 149.93 L411.69 151.1 L410.98 152.07 L410.25 152.91 L409.52 146.07 L408.77 145.81 L408.01 146.05 L407.24 144.95 L406.46 144.93 L405.67 145.25 L404.87 134.56 L404.06 131.83 L403.24 130.59 L402.41 129.69 L401.58 129.5 L400.73 129.23 L399.88 128.81 L399.03 128.72 L398.16 128.57 L397.29 128.41 L396.41 128.21 L395.53 127.15 L394.64 126.78 L393.74 126.7 L392.84 126.15 L391.94 126.26 L391.03 126.03 L390.11 125.57 L389.2 124.67 L388.28 125.3 L387.36 124.43 L386.43 124.39 L385.51 123.46 L384.58 123.6 L383.65 123.29 L382.72 122.87 L381.79 122.37 L380.86 121.77 L379.93 121.92 L379 121.01 L378.07 121.52 L377.14 121 L376.21 120.86 L375.29 120.51 L374.37 119.41 L373.45 119.14 L372.53 119.43 L371.62 119.1 L370.71 118.51 L369.81 117.8 L368.91 117.39 L368.01 117.14 L367.12 117 L366.24 117.19 L365.36 116.58 L364.49 116.5 L363.62 115.8 L362.76 115.44 L361.91 115.55 L361.07 115.19 L360.23 114.27 L359.41 114.83 L358.59 113.65 L357.78 113.25 L356.98 112.89 L356.19 113.25 L355.41 112.77 L354.64 112.45 L353.88 112.11 L353.13 111.44 L352.4 111.5 L351.67 111.67 L350.96 110.76 L350.25 110.93 L349.56 110.54 L348.89 110.14 L348.22 110.73 L347.57 109.6 L346.93 109.48 L346.31 109.44 L345.7 109.18 L345.1 109.02 L344.52 109.11 L343.96 108.5 L343.41 108.86 L342.87 108.12 L342.35 107.75 L341.84 107.78 L341.35 107.45 L340.88 106.81 L340.42 106.71 L339.98 107.4 L339.55 106.48 L339.15 106.51 L338.76 107 L338.38 106.5 L338.02 106.49 L337.69 106.53 L337.36 105.86 L337.06 105.28 L336.77 105.86 L336.5 105.11 L336.25 105.2 L336.02 105.73 L335.81 104.8 L335.61 105 L335.44 104.54 L335.28 104.7 L335.14 104.59 L335.02 104.98 L334.91 104.38 L334.83 104.18 L334.77 104.21 L334.72 104.65 L334.69 104.24 L334.69 104.52 L334.7 104.93 L334.73 104.98 L334.78 104.93 L334.85 104.78 L334.93 104.82 L335.04 104.44 L335.16 104.21 L335.3 104.42 L335.46 104.57 L335.64 104.34 L335.83 104.76 L336.04 104.62 L336.27 104.33 L336.52 104.79 L336.78 105.1 L337.07 104.33 L337.37 104.61 L337.68 105.09 L338.02 105.16 L338.37 105.06 L338.74 105.08 L339.13 105.6 L339.53 105.96 L339.95 105.83 L340.39 105.28 L340.84 106.13 L341.31 105.89 L341.79 106.32 L342.29 106.44 L342.81 106.62 L343.34 106.5 L343.89 106.92 L344.45 107.24 L345.03 107.3 L345.63 107.4 L346.23 107.2 L346.86 107.86 L347.49 108.09 L348.14 107.78 L348.81 108.01 L349.49 107.87 L350.18 108.81 L350.88 108.61 L351.6 108.82 L352.33 109.46 L353.08 108.59 L353.83 109.67 L354.6 110.03 L355.38 109.82 L356.17 110.4 L356.97 110.11 L357.78 110.66 L358.6 111.16 L359.44 111.48 L360.28 110.95 L361.13 111.72 L362 111.39 L362.87 112.01 L363.75 111.73 L364.64 112.72 L365.53 113.04 L366.44 113.29 L367.35 112.93 L368.27 113.41 L369.2 114.01 L370.13 114.58 L371.07 114.18 L372.02 114.13 L372.97 114.85 L373.92 115.8 L374.89 116.06 L375.85 116.28 L376.82 116.47 L377.8 116.92 L378.78 117.19 L379.76 116.79 L380.74 116.8 L381.73 117.9 L382.72 117.3 L383.71 118.17 L384.7 118.09 L385.69 118.25 L386.69 118.52 L387.68 119.86 L388.68 119.84 L389.68 119.79 L390.67 119.7 L391.66 120.98 L392.66 121.04 L393.65 120.7 L394.64 121.83 L395.62 121.81 L396.61 122.17 L397.59 122.06 L398.57 122.07 L399.54 123.22 L400.51 122.86 L401.48 123.15 L402.44 123.32 L403.4 123.93 L404.35 123.79 L405.29 124.71 L406.23 124.93 L407.17 125.42 L408.09 125.06 L409.01 125.68 L409.92 126.19 L410.83 126.57 L411.73 126.21 L412.62 126.61 L413.5 126.76 L414.37 127.4 L415.23 127.57 L416.08 128.25 L416.93 127.94 L417.76 129.11 L418.58 129.06 L419.39 129.3 L420.2 130.18 L420.99 131.94 L421.77 133.35 L422.53 134.95 L423.29 138.6 L424.03 143.42 L424.76 144.46 L425.48 144.35 L426.18 143 L426.88 142.18 L427.56 141.48 L428.22 140.17 L428.87 139.16 L429.51 137.35 L430.13 135.22 L430.74 134.66 L431.33 132.55 L431.91 131.48 L432.47 129.9 L433.02 127.62 L433.55 126.46 L434.07 125.06 L434.57 123.33 L435.06 121.18 L435.53 119.68 L435.98 118.8 L436.42 117.05 L436.83 114.74 L437.24 114.18 L437.62 112.42 L437.99 111.27 L438.34 109.59 L438.68 108.59 L439 107.24 L439.3 106.45 L439.58 105.84 L439.85 104.92 L440.09 104.17 L440.32 102.52 L440.53 102.63 L440.73 102.1 L440.9 100.46 L441.06 100.87 L441.2 99.68 L441.33 100.3 L441.43 99.64 L441.52 99.78 L441.58 99.03 L441.64 99.31 L441.67 99.38 L441.69 99.43 L441.7 99.57 L441.69 100.52 L441.67 100.65 L441.63 101.32 L441.57 102.28 L441.5 102.1 L441.41 103.09 L441.31 103.63 L441.2 105.19 L441.07 105.74 L440.92 106.82 L440.76 107.57 L440.59 109.44 L440.4 110.31 L440.19 111.39 L439.98 113.15 L439.74 113.94 L439.5 115.11 L439.23 116.9 L438.96 118.11 L438.67 119.66 L438.37 121.65 L438.05 123.06 L437.72 123.9 L437.38 126.27 L437.02 127.77 L436.65 129.8 L436.27 131.27 L435.87 132.95 L435.46 133.68 L435.04 135.51 L434.61 136.9 L434.17 138.3 L433.71 140.22 L433.24 141.28 L432.76 143.1 L432.27 144.51 L431.77 145.09 L431.25 146.21 L430.73 147.07 L430.19 148.34 L429.65 148.47 L429.09 143.44 L428.52 142.54 L427.95 142.41 L427.36 142.91 L426.77 141.95 L426.17 142.58 L425.56 142.45 L424.93 141.49 L424.31 133.37 L423.67 128.62 L423.02 127.01 L422.37 127.09 L421.71 125.94 L421.05 126.2 L420.37 125.76 L419.69 125.6 L419.01 124.89 L418.31 124.63 L417.62 124.89 L416.91 124.84 L416.2 124.35 L415.49 123.96 L414.77 124.08 L414.05 123.72 L413.32 122.75 L412.59 122.55 L411.86 121.96 L411.12 121.69 L410.38 121.53 L409.63 121.83 L408.89 121.8 L408.14 121.35 L407.39 120.9 L406.64 120.55 L405.89 120.25 L405.13 120.18 L404.38 119.34 L403.62 119.71 L402.87 119.23 L402.11 118.46 L401.36 118.27 L400.6 118.58 L399.85 118.37 L399.1 117.44 L398.35 118.08 L397.6 117.66 L396.86 116.93 L396.11 116.65 L395.37 116.8 L394.63 116.66 L393.9 116.21 L393.17 115.29 L392.44 115.37 L391.72 114.51 L391 114.46 L390.29 113.98 L389.58 114.8 L388.87 114.36 L388.18 114.3 L387.48 113.56 L386.8 113.41 L386.12 113.49 L385.44 112.67 L384.78 112.94 L384.12 112.44 L383.47 112.27 L382.82 111.39 L382.18 111.59 L381.55 111.53 L380.93 111.54 L380.32 110.87 L379.72 110.41 L379.13 110.13 L378.54 109.64 L377.96 109.54 L377.4 109.96 L376.84 109.88 L376.3 108.95 L375.76 108.71 L375.24 108.83 L374.72 108.26 L374.22 108.39 L373.73 108.51 L373.25 108.44 L372.78 108.43 L372.32 107.53 L371.88 107.06 L371.45 106.88 L371.03 107.22 L370.62 106.82 L370.22 106.36 L369.84 106.34 L369.47 106.43 L369.11 106.49 L368.77 106.23 L368.44 106.49 L368.12 106.34 L367.82 105.64 L367.53 105.16 L367.25 105.55 L366.99 105.59 L366.75 105.54 L366.51 105.32 L366.3 104.81 L366.09 105.12 L365.9 104.44 L365.73 105.28 L365.57 105.01 L365.42 104.69 L365.29 104.75 L365.18 104.17 L365.08 104.14 L364.99 103.96 L364.92 104.27 L364.86 104.89 L364.82 104.22 L364.8 104.21 L364.79 104.25 L364.8 104.46 L364.82 103.94 L364.85 103.69 L364.9 104.6 L364.97 103.94 L365.04 104.28 L365.13 104.11 L365.23 103.68 L365.33 103.61 L365.45 103.98 L365.58 104.5 L365.72 103.68 L365.87 104.55 L366.03 104.34 L366.2 103.86 L366.38 104.47 L366.57 104.56 L366.77 103.81 L366.98 103.86 L367.2 104.62 L367.43 104.58 L367.68 104.75 L367.93 104.98 L368.19 104.9 L368.46 104.12 L368.75 105.21 L369.04 105.11 L369.34 105.21 L369.65 105.42 L369.97 104.98 L370.31 104.81 L370.65 104.78 L371 105.1 L371.36 104.98 L371.73 106 L372.11 105.78 L372.49 105.09 L372.89 106.22 L373.3 106.09 L373.71 105.95 L374.13 106.3 L374.57 106.1 L375.01 106.78 L375.46 106.68 L375.91 105.97 L376.38 107.03 L376.86 106.28 L377.34 107.24 L377.83 106.44 L378.33 106.94 L378.83 107.1 L379.35 107.82 L379.87 108.06 L380.39 107.4 L380.93 108.21 L381.47 108.34 L382.02 107.77 L382.58 107.86 L383.14 108.96 L383.71 108.07 L384.29 108.72 L384.87 109.05 L385.46 109.53 L386.06 109.37 L386.66 108.85 L387.26 109.83 L387.88 110.17 L388.49 110.33 L389.12 110.52 L389.74 110.44 L390.38 109.97 L391.01 111.11 L391.66 111.16 L392.3 110.48 L392.96 110.6 L393.61 110.81 L394.27 111.83 L394.93 111.9 L395.6 111.4 L396.27 112.12 L396.95 112.06 L397.62 112.7 L398.31 113.23 L398.99 113.05 L399.68 112.79 L400.36 112.94 L401.06 113.38 L401.75 113.7 L402.44 113.81 L403.14 114.12 L403.84 114.22 L404.54 114.07 L405.24 115 L405.95 114.75 L406.65 114.56 L407.36 114.86 L408.06 115.82 L408.77 115.13 L409.48 115.47 L410.18 116.44 L410.89 116.53 L411.6 116.81 L412.3 117.18 L413.01 116.32 L413.71 117.17 L414.42 116.84 L415.12 117.91 L415.82 118.23 L416.53 117.44 L417.22 117.73 L417.92 117.7 L418.62 118.25 L419.31 118.63 L420 118.55 L420.69 119.52 L421.38 119.2 L422.06 119.51 L422.74 120.04 L423.42 119.71 L424.09 120.22 L424.76 120.2 L425.43 120.54 L426.1 120.79 L426.76 120.93 L427.41 120.83 L428.06 120.58 L428.71 120.81 L429.35 121.08 L429.99 121.29 L430.62 122.1 L431.25 121.48 L431.87 122.47 L432.49 122.81 L433.1 122.55 L433.71 122.46 L434.31 123.08 L434.91 122.91 L435.49 123.5 L436.08 122.9 L436.65 123.67 L437.22 123.84 L437.79 123.98 L438.34 123.8 L438.89 123.91 L439.44 124.71 L439.97 125.12 L440.5 125.27 L441.02 126.33 L441.53 126.44 L442.04 126.58 L442.54 127.44 L443.03 129.23 L443.51 129.51 L443.99 131.55 L444.45 132.74 L444.91 135.77 L445.36 138.84 L445.8 140.87 L446.23 140.28 L446.66 140.45 L447.07 139.49 L447.48 139.14 L447.87 138.96 L448.26 138.39 L448.64 137.48 L449.01 136.91 L449.37 136.22 L449.72 135.16 L450.06 134.15 L450.39 133.74 L450.71 133.49 L451.03 132.65 L451.33 131.73 L451.62 130.72 L451.9 130.54 L452.17 129.91 L452.44 128.94 L452.69 128.32 L452.93 127.97 L453.16 126.77 L453.39 125.74 L453.6 125.62 L453.8 124.86 L453.99 124.26 L454.17 123.79 L454.34 123.27 L454.5 123.42 L454.65 122.79 L454.79 123.12 L454.92 121.97 L455.03 122.31 L455.14 122 L455.24 121.37 L455.32 121.94 L455.4 121.98 L455.46 121.22 L455.52 121.49 L455.56 122.14 L455.59 122.32 L455.62 122.11 L455.63 122.71 L455.63 122.01 L455.63 123.05 L455.61 123.29 L455.58 123.55 L455.55 123.84 L455.5 124.41 L455.44 124.7 L455.37 125.22 L455.3 126.07 L455.21 127.09 L455.11 126.74 L455.01 127.77 L454.89 129.19 L454.76 129.54 L454.63 129.96 L454.48 130.49 L454.33 132.38 L454.16 133.29 L453.99 133.6 L453.81 134.53 L453.61 134.86 L453.41 135.81 L453.2 137.25 L452.98 138.01 L452.75 138.66 L452.51 139.15 L452.27 140.73 L452.01 141.28 L451.75 142.35 L451.47 142.38 L451.19 143.67 L450.9 143.13 L450.61 143.99 L450.3 144.11 L449.99 137.54 L449.67 137.23 L449.34 136.82 L449 136.23 L448.66 136.46 L448.3 136.6 L447.94 135.65 L447.58 135.87 L447.2 135.87 L446.82 136.09 L446.44 135.82 L446.04 134.97 L445.64 135.68 L445.23 135.06 L444.82 134.79 L444.4 134.93 L443.97 134.28 L443.54 133.95 L443.11 133.83 L442.66 133.79 L442.21 134.23 L441.76 134.21 L441.3 133.6 L440.84 133.56 L440.37 133.51 L439.9 132.55 L439.42 133.11 L438.94 132.23 L438.45 131.9 L437.96 132.65 L437.46 131.54 L436.97 131.94 L436.46 131.96 L435.96 131.29 L435.45 123.87 L434.94 120.45 L434.42 119.4 L433.91 118.31 L433.39 118 L432.87 118.64 L432.34 118.03 L431.81 117.83 L431.29 117.87 L430.76 117.58 L430.22 117.36 L429.69 116.66 L429.16 116.86 L428.62 116.91 L428.09 116.58 L427.55 116.12 L427.01 115.77 L426.47 115.93 L425.94 115.2 L425.4 115.55 L424.86 114.82 L424.32 114.68 L423.79 114.97 L423.25 114.1 L422.71 114.31 L422.18 113.93 L421.65 113.66 L421.12 113.42 L420.59 113.43 L420.06 113.67 L419.53 112.63 L419.01 112.34 L418.48 112.56 L417.96 112.26 L417.45 112.41 L416.93 111.49 L416.42 111.53 L415.91 111.87 L415.41 110.99 L414.91 110.6 L414.41 111.14 L413.91 110.2 L413.42 110.6 L412.94 110.76 L412.45 109.95 L411.98 110.19 L411.5 109.56 L411.03 109.54 L410.57 109.91 L410.11 109.24 L409.66 108.69 L409.21 108.94 L408.77 108.69 L408.33 108.15 L407.9 108.45 L407.47 108.23 L407.05 107.96 L406.64 107.51 L406.23 108.06 L405.83 108.02 L405.44 107.1 L405.05 107.18 L404.67 107.31 L404.29 106.48 L403.93 106.34 L403.57 106.58 L403.22 105.92 L402.87 105.95 L402.53 105.91 L402.21 106.3 L401.88 106.48 L401.57 105.58 L401.26 105.39 L400.97 105.7 L400.68 105.43 L400.4 105.2 L400.12 105.45 L399.86 104.81 L399.61 104.85 L399.36 104.94 L399.12 105.15 L398.89 104.54 L398.67 104.7 L398.46 104.14 L398.26 104.67 L398.07 104.32 L397.88 104.46 L397.71 104.13 L397.54 103.85 L397.39 104.31 L397.24 104.29 L397.11 103.72 L396.98 103.97 L396.87 103.56 L396.76 103.88 L396.66 103.89 L396.57 103.33 L396.5 102.83 L396.43 102.84 L396.37 103.2 L396.33 103.29 L396.29 103.62 L396.26 103.34 L396.24 103.26 L396.24 102.51 L396.24 103.43 L396.25 102.45 L396.28 102.96 L396.31 102.99 L396.36 103.17 L396.41 102.36 L396.47 103.24 L396.54 102.79 L396.62 102.85 L396.71 103.21 L396.81 103.18 L396.91 102.31 L397.02 102.54 L397.14 102.61 L397.27 102.43 L397.4 103.37 L397.55 102.69 L397.7 102.65 L397.86 103.28 L398.03 103.04 L398.2 102.47 L398.38 103.24 L398.57 102.77 L398.77 103.49 L398.98 102.95 L399.19 103.45 L399.41 103.22 L399.64 103.42 L399.88 102.89 L400.13 103.09 L400.38 103.41 L400.64 103.26 L400.9 103.61 L401.18 103.24 L401.46 103.93 L401.75 103.66 L402.04 103.68 L402.34 103.98 L402.65 104.44 L402.97 104.37 L403.3 103.91 L403.63 104.48 L403.96 103.93 L404.31 104.3 L404.66 103.87 L405.02 104.08 L405.38 104.31 L405.75 104.81 L406.13 105.28 L406.51 104.78 L406.9 104.66 L407.3 104.56 L407.7 105.49 L408.11 105.64 L408.52 104.8 L408.94 105.18 L409.36 105.59 L409.79 105.4 L410.23 106.19 L410.67 105.85 L411.12 105.83 L411.57 106.02 L412.03 106.65 L412.49 106.8 L412.96 106.36 L413.43 106.19 L413.91 107.17 L414.39 107.45 L414.87 107.49 L415.37 106.81 L415.86 107.4 L416.36 107.45 L416.86 106.97 L417.37 107.55 L417.88 108.08 L418.4 107.72 L418.92 108.66 L419.44 108.48 L419.96 108.14 L420.49 108.89 L421.03 109.2 L421.56 108.78 L422.1 109.15 L422.64 108.56 L423.19 109.7 L423.73 109.05 L424.28 109.67 L424.83 109.34 L425.39 109.91 L425.95 109.81 L426.5 110.35 L427.06 110.62 L427.63 110.51 L428.19 110.27 L428.76 110.94 L429.32 111.23 L429.89 111.17 L430.46 111.7 L431.03 111.6 L431.6 111.46 L432.17 111.65 L432.75 111.75 L433.32 112.26 L433.89 112.72 L434.47 112.88 L435.04 112.68 L435.62 113 L436.19 112.73 L436.77 113.24 L437.34 112.82 L437.91 113.17 L438.49 113.25 L439.06 113.33 L439.63 113.73 L440.2 113.99 L440.77 114.29 L441.34 114.72 L441.9 114.04 L442.47 114.53 L443.03 115.15 L443.6 114.35 L444.16 114.9 L444.71 115 L445.27 115.37 L445.82 115.88 L446.38 115.03 L446.93 116.13 L447.47 116.05 L448.02 115.47 L448.56 116.63 L449.1 116.34 L449.63 116.51 L450.17 116.92 L450.7 116.28 L451.22 117.01 L451.74 117.62 L452.26 117.23 L452.78 117.9 L453.29 117.23 L453.8 117.18 L454.3 117.28 L454.8 118.4 L455.29 117.81 L455.78 118.37 L456.27 118.31 L456.75 118.64 L457.23 118.77 L457.7 119.1 L458.17 118.66 L458.63 119.41 L459.09 118.54 L459.54 119.74 L459.99 118.82 L460.43 119.85 L460.87 120.13 L461.3 119.53 L461.72 119.95 L462.14 119.86 L462.55 120.36 L462.96 120.44 L463.36 121.31 L463.76 120.91 L464.15 121.4 L464.53 121.24 L464.91 122.74 L465.28 123.12 L465.64 122.95 L466 123.27 L466.35 124.55 L466.7 125.02 L467.03 126.12 L467.36 127.37 L467.69 128.49 L468 129.7 L468.31 131.91 L468.62 133.35 L468.91 134.83 L469.2 136.05 L469.48 135.65 L469.76 135.67 L470.02 135.28 L470.28 134.64 L470.53 134.2 L470.78 133.6 L471.02 133.79 L471.24 133.73 L471.47 133.2 L471.68 133.14 L471.89 132.56 L472.08 131.8 L472.28 131.41 L472.46 131.49 L472.63 131.23 L472.8 131.01 L472.96 130.61 L473.11 129.96 L473.25 129.97 L473.39 129.01 L473.52 129.15 L473.64 129.21 L473.75 128.93 L473.85 129.23 L473.95 128.3 L474.04 128.18 L474.11 128.55 L474.19 128.08 L474.25 128.58 L474.3 128.65 L474.35 128.7 L474.39 128.83 L474.42 128.5 L474.45 128.65 L474.46 128.78 L474.47 129.77 L474.47 129.32 L474.46 130 L474.44 130.5 L474.42 130.78 L474.39 131.31 L474.35 132.07 L474.3 132.36 L474.24 132.62 L474.18 133.1 L474.11 133.46 L474.03 134.89 L473.94 134.7 L473.85 135.43 L473.75 136.15 L473.64 136.46 L473.52 138.04 L473.4 137.9 L473.27 138.32 L473.13 139.74 L472.98 139.66 L472.83 139.66 L472.67 140.7 L472.5 133.11 L472.32 132.96 L472.14 133.41 L471.95 133.65 L471.75 133.47 L471.55 132.67 L471.34 133.04 L471.12 133.06 L470.9 132.81 L470.67 132.14 L470.43 132.81 L470.19 132.97 L469.94 131.79 L469.68 132.4 L469.42 132.2 L469.15 131.4 L468.88 132.08 L468.6 132.18 L468.31 131.14 L468.02 131.75 L467.72 131.65 L467.41 130.69 L467.1 131.37 L466.79 130.47 L466.47 130.98 L466.14 130.88 L465.81 130.84 L465.47 130.32 L465.13 130.16 L464.78 130.2 L464.43 129.93 L464.08 130.02 L463.72 129.25 L463.35 128.99 L462.98 129.05 L462.6 128.82 L462.23 129.52 L461.84 129.16 L461.46 129.05 L461.07 128.95 L460.67 127.85 L460.27 127.76 L459.87 127.59 L459.46 127.84 L459.05 128.18 L458.64 122.51 L458.23 118.42 L457.81 115.41 L457.39 115.17 L456.96 114.63 L456.53 113.56 L456.1 114.18 L455.67 113.15 L455.24 113.67 L454.8 113.08 L454.36 113.55 L453.92 112.46 L453.48 112.86 L453.03 112.74 L452.59 112.21 L452.14 112.1 L451.69 112.32 L451.24 112.29 L450.79 111.59 L450.33 112.04 L449.88 110.89 L449.42 111.31 L448.97 111.33 L448.51 110.97 L448.06 111.04 L447.6 110.62 L447.14 110.18 L446.69 110.16 L446.23 110.06" fill="none" stroke="#000" stroke-width="1.2" stroke-linejoin="round" />
<path d="M446.23 110.11 L445.77 109.7 L445.32 109.19 L444.86 109.4 L444.41 108.84 L443.95 108.98 L443.5 109.22 L443.04 108.98 L442.59 108.03 L442.14 108.27 L441.69 108.2 L441.24 107.87 L440.8 107.32 L440.35 107.68 L439.91 107.52 L439.47 107.34 L439.03 107.57 L438.59 106.78 L438.16 106.68 L437.73 106.49 L437.3 106.37 L436.87 106.18 L436.44 105.73 L436.02 106.16 L435.6 105.08 L435.19 105.91 L434.78 104.88 L434.37 105.51 L433.96 104.63 L433.56 105.08 L433.16 105.13 L432.77 104.44 L432.37 103.94 L431.99 103.77 L431.6 103.58 L431.23 103.31 L430.85 104.22 L430.48 103.69 L430.12 103.85 L429.75 102.96 L429.4 103.16 L429.05 102.68 L428.7 102.47 L428.36 102.09 L428.02 102.32 L427.69 101.96 L427.36 102.19 L427.04 102.59 L426.73 101.53 L426.42 102.31 L426.11 102.19 L425.81 101.21 L425.52 101.71 L425.23 101.15 L424.95 101.75 L424.68 101.42 L424.41 100.72 L424.15 101.38 L423.89 100.72 L423.64 100.12 L423.4 100.84 L423.16 100.17 L422.93 100.02 L422.71 100.06 L422.49 99.79 L422.28 99.76 L422.08 100.45 L421.88 100.15 L421.69 99.66 L421.51 99.07 L421.33 99.85 L421.16 99.34 L421 99.78 L420.85 98.88 L420.7 99.26 L420.56 99.09 L420.43 98.85 L420.31 99.39 L420.19 98.64 L420.08 98.49 L419.98 98.36 L419.89 98.96 L419.8 98.96 L419.72 98.98 L419.65 98.08 L419.59 98.56 L419.53 98.57 L419.48 98.37 L419.44 98.12 L419.41 98.52 L419.39 98.46 L419.37 97.93 L419.36 97.88 L419.36 98.4 L419.37 98.63 L419.38 97.62 L419.41 97.83 L419.44 97.96 L419.48 98.16 L419.53 97.51 L419.58 98.1 L419.65 98.34 L419.72 98.47 L419.81 98.18 L419.91 97.89 L420.03 98.17 L420.15 97.51 L420.29 97.87 L420.43 98.1 L420.59 97.89 L420.77 97.99 L420.95 98 L421.14 98.17 L421.35 98.18 L421.57 98.25 L421.8 97.91 L422.04 98.69 L422.29 98.06 L422.55 98.67 L422.83 98.1 L423.11 99.06 L423.41 98.65 L423.71 98.77 L424.03 98.53 L424.36 99.19 L424.7 99.21 L425.05 99.44 L425.41 99.04 L425.78 99.11 L426.17 99.87 L426.56 99.76 L426.96 99.84 L427.37 99.07 L427.79 99.75 L428.22 99.74 L428.67 100.17 L429.12 99.86 L429.58 99.81 L430.04 100.09 L430.52 100.99 L431.01 100.61 L431.5 100.69 L432.01 101.33 L432.52 100.61 L433.04 101.29 L433.57 101.47 L434.11 101.23 L434.65 101.43 L435.2 101.68 L435.76 101.41 L436.33 101.96 L436.9 102.32 L437.48 102.8 L438.07 102.4 L438.66 102.78 L439.27 102.75 L439.87 103.14 L440.48 103.7 L441.1 103.83 L441.73 103.87 L442.36 104.12 L442.99 103.43 L443.63 103.92 L444.28 104.49 L444.92 104.13 L445.58 104.4 L446.24 105.25 L446.9 104.64 L447.56 105.43 L448.23 104.74 L448.9 105.91 L449.58 105.93 L450.26 106.17 L450.94 105.66 L451.62 105.9 L452.31 106.37 L453 107.06 L453.69 106.93 L454.38 106.82 L455.07 107.75 L455.77 106.96 L456.46 107.25 L457.16 107.34 L457.85 107.81 L458.55 108.1 L459.25 107.89 L459.95 108.9 L460.64 109.05 L461.34 109.46 L462.03 109.59 L462.73 109.08 L463.42 110.08 L464.11 109.53 L464.8 110.13 L465.49 109.77 L466.18 110.1 L466.86 110.38 L467.54 110.39 L468.22 111.5 L468.9 111.44 L469.57 111.51 L470.24 111.63 L470.9 111.54 L471.56 111.49 L472.22 111.83 L472.88 111.8 L473.52 112.25 L474.17 112.82 L474.81 112.83 L475.44 112.73 L476.07 112.83 L476.7 113.51 L477.31 113.71 L477.93 113.58 L478.53 114.19 L479.13 113.61 L479.73 114.8 L480.32 114.22 L480.9 114.58 L481.47 115.08 L482.04 114.83 L482.6 115.11 L483.15 114.74 L483.69 115.02 L484.23 115.57 L484.76 115.47 L485.28 115.7 L485.79 116.81 L486.3 116.37 L486.79 116.73 L487.28 116.99 L487.76 117.78 L488.22 118.83 L488.68 119.8 L489.13 120.21 L489.57 121.83 L490.01 122.56 L490.43 124.4 L490.84 126.08 L491.24 127.59 L491.63 127.55 L492.01 126.68 L492.39 126.72 L492.75 126.78 L493.1 126.27 L493.44 126.1 L493.77 125.53 L494.08 125.33 L494.39 125.25 L494.69 124.1 L494.97 123.85 L495.25 123.65 L495.51 123.86 L495.76 123.62 L496 122.68 L496.23 122.26 L496.45 122.16 L496.66 122.38 L496.85 121.53 L497.03 121.51 L497.21 121.45 L497.37 120.99 L497.51 120.97 L497.65 120.57 L497.77 120.31 L497.89 119.92 L497.99 120.83 L498.08 120.23 L498.15 119.75 L498.22 120.06 L498.27 120.15 L498.31 119.86 L498.34 120.86 L498.35 120.07 L498.35 120.37 L498.34 120.55 L498.32 121.02 L498.28 120.85 L498.23 121.62 L498.16 121.39 L498.09 121.94 L498 121.43 L497.9 121.86 L497.78 122.54 L497.66 122.53 L497.52 123.28 L497.37 123.45 L497.2 124.21 L497.03 123.76 L496.84 124.21 L496.64 124.56 L496.42 125.67 L496.2 125.15 L495.96 126.39 L495.71 126.04 L495.45 126.38 L495.18 127.08 L494.9 126.8 L494.6 126.31 L494.3 122.19 L493.98 119.53 L493.65 117.31 L493.32 116.93 L492.97 115.77 L492.61 116 L492.24 116.13 L491.86 114.9 L491.47 115.76 L491.07 115.38 L490.65 114.61 L490.23 115.2 L489.8 114.53 L489.37 113.99 L488.92 114.12 L488.46 114.22 L487.99 113.57 L487.52 113.3 L487.03 113.39 L486.54 113.15 L486.04 113.3 L485.53 113.01 L485.02 112.13 L484.5 111.95 L483.96 112.86 L483.43 112.43 L482.88 112.19 L482.33 111.32 L481.77 111.79 L481.21 111.61 L480.63 110.71 L480.06 111.17 L479.47 110.02 L478.88 110.4 L478.29 109.66 L477.69 109.52 L477.09 110 L476.48 109.1 L475.87 109.3 L475.25 109.28 L474.63 109.25 L474 108.26 L473.37 108.18 L472.74 108.24 L472.1 107.39 L471.46 107.88 L470.82 107.36 L470.18 107.53 L469.53 106.98 L468.89 106.12 L468.24 106.32 L467.58 106.47 L466.93 106.13 L466.28 105.42 L465.62 105.59 L464.97 104.65 L464.31 105.35 L463.66 104.18 L463 104.21 L462.35 103.74 L461.69 104.03 L461.04 104.11 L460.39 103.75 L459.74 102.98 L459.09 103.43 L458.44 103.09 L457.79 102.07 L457.15 101.72 L456.51 101.5 L455.87 101.28 L455.23 101.37 L454.6 100.76 L453.97 100.73 L453.35 100.65 L452.73 100.57 L452.11 100.79 L451.49 100.49 L450.89 100.07 L450.28 99.6 L449.68 99.76 L449.09 98.56 L448.5 98.79 L447.92 98.38 L447.34 97.98 L446.77 98.53 L446.2 97.56 L445.64 97.26 L445.09 97.84 L444.55 97.79 L444.01 96.81 L443.48 96.5 L442.95 96.4 L442.44 96.65 L441.93 96.23 L441.43 96.6 L440.94 96.27 L440.45 95.86 L439.98 95.3 L439.51 95.87 L439.06 94.73 L438.61 95.58 L438.17 94.33 L437.74 95 L437.32 94.16 L436.91 93.99 L436.51 93.67 L436.12 94.07 L435.74 93.65 L435.37 93.97 L435.01 93.2 L434.66 93.88 L434.32 92.85 L433.99 93.05 L433.67 93.52 L433.37 92.38 L433.07 92.97 L432.79 93.13 L432.52 92.79 L432.26 92.94 L432.01 92.54 L431.77 91.94 L431.55 91.51 L431.34 91.82 L431.14 91.47 L430.95 91.41 L430.77 91.45 L430.61 91.74 L430.46 91.81 L430.32 91.85 L430.19 91.32 L430.08 91.65 L429.97 90.97 L429.89 91.39 L429.81 91.04 L429.75 91.03 L429.69 90.88 L429.66 91.38 L429.63 91.23 L429.62 90.7 L429.62 91.21 L429.64 90.66 L429.66 90.3 L429.7 90.94 L429.75 90.27 L429.82 90.66 L429.9 90.28 L429.99 90.76 L430.09 90.5 L430.21 90.59 L430.34 91.16 L430.48 90.8 L430.63 90.75 L430.8 90.91 L430.97 90.71 L431.16 90.46 L431.37 90.62 L431.58 90.64 L431.81 91.46 L432.05 90.86 L432.3 91 L432.57 90.7 L432.84 91.83 L433.13 91.7 L433.43 90.85 L433.74 91.61 L434.06 91.3 L434.4 91.51 L434.75 91.82 L435.11 91.86 L435.47 91.81 L435.86 91.42 L436.25 92.03 L436.65 91.84 L437.07 92.51 L437.49 92.15 L437.93 92.38 L438.38 92.34 L438.83 92.3 L439.3 93.34 L439.78 92.45 L440.27 92.99 L440.77 93.53 L441.28 93.43 L441.8 93.99 L442.33 93.98 L442.87 93.43 L443.41 93.72 L443.97 93.7 L444.54 94.66 L445.11 94.88 L445.7 94.73 L446.29 94.76 L446.89 94.68 L447.5 95.32 L448.12 94.99 L448.75 95.34 L449.39 95.86 L450.03 95.47 L450.68 96.47 L451.34 96.06 L452 96.71 L452.67 97.07 L453.35 96.76 L454.04 96.91 L454.73 97 L455.43 97.47 L456.14 97.03 L456.85 97.4 L457.57 98.33 L458.29 98.71 L459.02 97.82 L459.75 98.66 L460.49 99.22 L461.23 99.35 L461.98 98.97 L462.73 99.79 L463.49 99.78 L464.25 99.65 L465.02 100.24 L465.78 100.12 L466.56 100 L467.33 100.41 L468.11 100.82 L468.89 101.05 L469.68 101.64 L470.46 101.49 L471.25 101.7 L472.04 102 L472.83 102.34 L473.63 102.27 L474.42 103.13 L475.22 102.78 L476.02 102.71 L476.81 104.02 L477.61 104 L478.41 103.39 L479.21 104.66 L480.01 104.05 L480.81 104.55 L481.61 105.37 L482.41 104.96 L483.2 105.9 L484 105.17 L484.79 106.03 L485.58 105.54 L486.37 105.8 L487.16 106.9 L487.95 106.82 L488.73 107.34 L489.51 106.87 L490.29 107.86 L491.07 108.1 L491.84 108.28 L492.61 107.65 L493.37 108.57 L494.14 108.7 L494.89 108.78 L495.64 108.87 L496.39 109.25 L497.14 108.85 L497.87 109.76 L498.61 109.82 L499.34 109.59 L500.06 110.51 L500.78 110.8 L501.49 110.25 L502.19 111.07 L502.89 110.63 L503.58 110.95 L504.27 111.72 L504.95 112.04 L505.62 112.62 L506.29 112.1 L506.95 113.05 L507.6 113.72 L508.24 114.63 L508.87 115.53 L509.5 116.05 L510.12 118.62 L510.73 120.47 L511.33 122.78 L511.93 122.78 L512.51 122.54 L513.09 122.28 L513.65 122.07 L514.21 120.83 L514.76 120.17 L515.3 119.94 L515.83 119.64 L516.35 118.2 L516.86 118.31 L517.35 117.61 L517.84 116.33 L518.32 115.33 L518.79 114.86 L519.25 114.61 L519.7 112.82 L520.13 112.98 L520.56 111.98 L520.97 110.46 L521.38 109.91 L521.77 109.19 L522.15 109.21 L522.52 107.58 L522.88 107.37 L523.22 107.11 L523.56 105.52 L523.88 104.68 L524.2 105.04 L524.49 103.95 L524.78 102.83 L525.06 102.9 L525.32 102.38 L525.57 101.3 L525.81 101.19 L526.04 100.08 L526.26 99.81 L526.46 99.4 L526.65 99.2 L526.83 99.44 L526.99 98.57 L527.15 98.41 L527.29 98.28 L527.42 97.98 L527.53 98.11 L527.64 98.09 L527.73 97.17 L527.8 97.73 L527.87 98 L527.92 97.02 L527.95 97.63 L527.96 97.58 L527.94 98.16 L527.91 98.62 L527.86 98.72 L527.79 98.5 L527.69 99.56 L527.58 99.29 L527.45 100.51 L527.29 100.4 L527.12 101.84 L526.92 102.2 L526.71 103.27 L526.48 103.99 L526.23 104.35 L525.96 105.35 L525.67 106.01 L525.36 107.27 L525.03 108.07 L524.68 108.99 L524.31 109.28 L523.93 111.19 L523.53 111.78 L523.11 112.25 L522.67 113.56 L522.21 114.89 L521.74 115 L521.25 116.96 L520.74 117.83 L520.22 118.84 L519.68 119.18 L519.12 119.46 L518.55 120.81 L517.96 121.39 L517.36 121.27 L516.74 122.39 L516.11 119.49 L515.46 113.75 L514.8 112.79 L514.12 111.65 L513.43 111.73 L512.73 110.92 L512.01 110.36 L511.28 110.54 L510.54 110.48 L509.79 109.79 L509.03 109.42 L508.25 109.88 L507.46 109.38 L506.67 108.93 L505.86 108.48 L505.04 108.45 L504.21 107.71 L503.38 107.86 L502.53 106.81 L501.68 107.13 L500.82 106.97 L499.95 106.82 L499.08 106.44 L498.19 106.02 L497.3 104.93 L496.41 105.14 L495.51 104.78 L494.6 103.86 L493.69 103.52 L492.78 103.42 L491.86 103.69 L490.94 103.26 L490.01 102.72 L489.08 102.67 L488.15 102.23 L487.22 102.05 L486.29 101.68 L485.35 100.76 L484.42 100.58 L483.48 100.43 L482.55 100.06 L481.61 99.56 L480.68 99.14 L479.74 99.56 L478.81 98.28 L477.89 98.38 L476.96 98.19 L476.04 97.15 L475.12 97.05 L474.2 97.18 L473.29 97.22 L472.39 96.42 L471.49 96.09 L470.59 95.84 L469.7 95.84 L468.82 94.97 L467.95 95.02 L467.08 94.12 L466.22 94.07 L465.36 94.03 L464.52 93.11 L463.68 93.24 L462.86 93.36 L462.04 92.83 L461.23 92.8 L460.44 92.07 L459.65 91.23 L458.87 90.91 L458.11 90.96 L457.36 91.25 L456.61 90.88 L455.89 90.65 L455.17 90.19 L454.47 89.62 L453.78 90.07 L453.1 89.28 L452.44 89.11 L451.79 88.59 L451.16 88.17 L450.54 88.42 L449.94 87.96 L449.35 88.11 L448.78 87.69 L448.22 87.26 L447.68 87.73 L447.16 86.99 L446.65 86.81 L446.16 86.98 L445.68 86.72 L445.23 85.88 L444.79 86.25 L444.37 86.26 L443.97 85.99 L443.58 85.56 L443.22 85.55 L442.87 85.46 L442.54 85.36 L442.23 85.35 L441.94 84.89 L441.67 84.66 L441.42 85.13 L441.19 84.45 L440.97 84.67 L440.78 83.81 L440.61 83.77 L440.45 84.61 L440.32 83.89 L440.21 84.22 L440.11 84.43 L440.04 83.5 L439.99 83.41 L439.95 83.51 L439.94 83.65 L439.95 83.23 L439.98 83.69 L440.03 83.54 L440.1 83.56 L440.19 83.32 L440.3 83.33 L440.42 83.97 L440.57 84.1 L440.74 83.74 L440.93 83.72 L441.14 84.03 L441.37 83.49 L441.62 83.55 L441.88 83.8 L442.17 84.03 L442.48 83.92 L442.8 84.57 L443.15 83.95 L443.51 84.82 L443.9 84.02 L444.3 84.44 L444.72 84.95 L445.16 85.16 L445.62 84.81 L446.09 85.09 L446.59 84.96 L447.1 85.78 L447.63 85.03 L448.18 85.7 L448.74 85.84 L449.33 85.66 L449.93 85.97 L450.54 86.33 L451.17 86.68 L451.82 86.67 L452.49 87.35 L453.17 87.29 L453.87 86.83 L454.58 87.85 L455.31 88.09 L456.05 87.43 L456.81 88.19 L457.58 88.24 L458.37 88.4 L459.17 88.48 L459.98 89.18 L460.81 88.9 L461.64 90.03 L462.5 89.3 L463.36 90.17 L464.24 90.07 L465.13 90.7 L466.03 90.45 L466.94 91.15 L467.86 91.16 L468.79 91.76 L469.73 91.45 L470.69 91.8 L471.65 92.74 L472.62 92.39 L473.6 92.47 L474.58 93.57 L475.58 93.92 L476.58 93.37 L477.59 93.64 L478.61 94.9 L479.63 94.46 L480.66 94.59 L481.7 95.67 L482.74 95.38 L483.79 96.25 L484.84 96 L485.89 96.64 L486.95 97 L488.02 97.72 L489.08 97.43 L490.15 97.69 L491.22 98.49 L492.29 99.09 L493.37 99.36 L494.45 99.49 L495.52 98.96 L496.6 99.58 L497.68 99.73 L498.75 100.22 L499.83 101.25 L500.9 101.28 L501.97 100.95 L503.05 101.39 L504.11 101.55 L505.18 102.06 L506.24 102.51 L507.3 102.76 L508.36 102.9 L509.41 103.78 L510.46 104.54 L511.5 104.54 L512.53 105.19 L513.56 105.2 L514.59 105.14 L515.6 105.81 L516.61 106.14 L517.62 106.62 L518.61 106.62 L519.6 106.74 L520.58 106.96 L521.55 106.88 L522.51 108.22 L523.46 108.38 L524.41 109.03 L525.34 108.61 L526.26 109.7 L527.17 110.77 L528.07 112.25 L528.96 115.78 L529.84 118.87 L530.7 119.39 L531.55 118.61 L532.39 118.25 L533.22 117.09 L534.03 116.71 L534.83 115.76 L535.62 114.74 L536.39 113.06 L537.15 112.19 L537.89 111.31 L538.62 109.81 L539.33 108.27 L540.03 107.17 L540.71 105.57 L541.37 103.93 L542.02 102.8 L542.66 101.25 L543.27 100.46 L543.87 98.46 L544.45 97.04 L545.02 96.18 L545.57 95.46 L546.1 94.1 L546.61 92.08 L547.1 90.72 L547.58 89.69 L548.04 88.78 L548.48 87.63 L548.9 87.04 L549.3 85.45 L549.68 84 L550.05 83.98 L550.39 82.62 L550.72 81.51 L551.03 80.96 L551.31 80.57 L551.58 80.03 L551.83 78.85 L552.06 78.08 L552.27 77.65 L552.45 77.77 L552.62 77 L552.77 76.63 L552.9 76.89 L553.01 76.28 L553.1 76.59 L553.17 76.76 L553.22 77.01 L553.25 76.27 L553.26 76.39 L553.24 77.43 L553.21 77.69 L553.16 77.75 L553.09 78.29 L552.99 78.16 L552.88 79.32 L552.75 79.47 L552.59 80.17 L552.42 81.12 L552.23 81.31 L552.01 82.62 L551.78 83.42 L551.53 84.18 L551.26 85.46 L550.97 86.74 L550.66 86.94 L550.33 88.28 L549.98 89.68 L549.61 90.92 L549.23 92.01 L548.83 93.64 L548.4 95.17 L547.96 95.94 L547.51 96.85 L547.03 99.11 L546.54 99.45 L546.03 101.51 L545.5 102.15 L544.95 103.77 L544.39 105.68 L543.81 107.09 L543.22 107.62 L542.61 108.8 L541.98 110.25 L541.34 111.71 L540.68 112.91 L540.01 113.73 L539.33 114.7 L538.63 115.61 L537.91 117.05 L537.18 117.12 L536.44 117.48 L535.68 118.19 L534.91 113.07 L534.13 109.49 L533.34 107.97 L532.53 107.78 L531.71 106.88 L530.88 106.88 L530.04 106.51 L529.19 106.83 L528.33 106.09 L527.45 105.55 L526.57 105 L525.68 104.69 L524.78 105.1 L523.87 104.49 L522.95 103.61 L522.02 104.3 L521.09 103.98 L520.15 103.51 L519.2 102.54 L518.25 102.66 L517.28 101.88 L516.32 101.39 L515.34 101.06 L514.36 101.59 L513.38 100.49 L512.39 100.01 L511.4 99.76 L510.41 99.22 L509.41 98.91 L508.41 98.79 L507.4 98.14 L506.4 98.15 L505.39 98.29 L504.38 97.72 L503.37 96.61 L502.36 96.94 L501.35 96.42 L500.34 95.59 L499.33 95.45 L498.32 94.96 L497.31 94.97 L496.31 94.56 L495.3 94.7 L494.3 94.2 L493.3 93.89 L492.31 93.09 L491.32 92.75 L490.33 92.91 L489.35 91.91 L488.37 92.17 L487.39 91.5 L486.43 91.56 L485.46 90.7 L484.51 90.73 L483.56 89.48 L482.62 89.8 L481.69 88.93 L480.76 89.04 L479.84 88.84 L478.93 87.92 L478.03 88.24 L477.14 87.64 L476.26 87.18 L475.38 86.45 L474.52 86.47 L473.67 86.91 L472.83 86.14 L472 85.26 L471.18 85.08 L470.37 85.34 L469.58 85.32 L468.8 84.87 L468.03 84.03 L467.27 84.41 L466.53 83.32 L465.8 83.77 L465.08 83.02 L464.38 82.75 L463.7 83.01 L463.03 82.44 L462.37 82.07 L461.73 82.24 L461.1 81.7 L460.49 81.36 L459.9 80.76 L459.32 81.31 L458.76 81.22 L458.21 80.63 L457.68 80.32 L457.17 80.25 L456.68 79.56 L456.2 80.19 L455.75 79.66 L455.31 79.53 L454.88 79.67 L454.48 79.21 L454.1 79.06 L453.73 79 L453.38 78.39 L453.05 78.01 L452.74 77.9 L452.45 78.63 L452.18 78.34 L451.93 77.56 L451.7 78.45 L451.48 78.34 L451.29 78.27 L451.12 77.16 L450.96 77.6 L450.83 77.61 L450.72 77.92 L450.62 76.96 L450.55 76.78 L450.5 77.08 L450.47 76.78 L450.45 77.14 L450.46 77.41 L450.49 77.54 L450.54 77.38 L450.61 77.55 L450.7 77.3 L450.81 77.67 L450.95 77.69 L451.1 76.73 L451.27 76.81 L451.47 76.88 L451.68 77.46 L451.92 77.39 L452.18 77.34 L452.45 77.12 L452.75 77.74 L453.07 77.57 L453.41 77.61 L453.77 77.36 L454.15 78.02 L454.55 78.52 L454.97 78.16 L455.4 77.73 L455.86 78.66 L456.34 78.27 L456.84 78.97 L457.35 78.95 L457.89 78.69 L458.44 79.44 L459.01 79.19 L459.6 79.2 L460.21 79.6 L460.84 79.35 L461.48 79.43 L462.15 80.27 L462.83 79.91 L463.52 80.11 L464.24 80.5 L464.97 80.71 L465.71 80.95 L466.48 80.97 L467.25 81.26 L468.05 81.97 L468.86 81.77 L469.69 81.94 L470.53 82.47 L471.38 82.22 L472.25 83.14 L473.13 83.13 L474.03 83.37 L474.94 83.6 L475.86 84.36 L476.8 84.08 L477.75 84.99 L478.71 84.8 L479.68 85.18 L480.66 85.19 L481.66 85.3 L482.66 85.46 L483.68 86.63 L484.71 86.15 L485.74 86.96 L486.79 87.24 L487.84 88.09 L488.91 87.47 L489.98 88.51 L491.06 88.78 L492.14 89.07 L493.24 89.48 L494.34 89.75 L495.45 90.09 L496.56 90.14 L497.68 90.68 L498.81 90.56 L499.94 90.7 L501.07 91.04 L502.21 92.02 L503.35 92.01 L504.5 92.3 L505.64 92.66 L506.8 93.38 L507.95 93.96 L509.1 93.66 L510.26 94.13 L511.42 94.83 L512.58 94.82 L513.73 95.85 L514.89 95.38 L516.05 95.6 L517.21 95.87 L518.36 97.2 L519.52 96.88 L520.67 97.13 L521.82 98.21 L522.96 98.02 L524.1 98.84 L525.24 99.15 L526.38 99.71 L527.51 99.76" fill="none" stroke="#f00" stroke-width="1.5" stroke-linejoin="round" />
<path d="M337.36 105.68 L337.06 105.72 L336.77 105.46 L336.5 105.23 L336.25 105.64 L336.02 105.09 L335.81 104.96 L335.61 105.02 L335.44 105.13 L335.28 105.15 L335.14 104.91 L335.02 104.88 L334.91 104.89 L334.83 104.56 L334.77 104.54 L334.72 104.73 L334.69 104.75 L334.69 104.5 L334.7 104.34 L334.73 104.35 L334.78 104.35 L334.85 104.18 L334.93 104.27 L335.04 104.47 L335.16 104.29 L335.3 104.35 L335.46 104.58 L335.64 104.72 L335.83 104.62 L336.04 104.44 L336.27 104.46 L336.52 104.8 L336.78 104.7 L337.07 105.06 L337.37 104.8 L337.68 104.97 L338.02 104.84 L338.37 104.87 L338.74 105.47 L339.13 104.99 L339.53 105.59 L339.95 105.2 L340.39 105.29 L340.84 105.9 L341.31 105.98 L341.79 106.2 L342.29 105.85 L342.81 106.08 L343.34 106.09 L343.89 106.34 L344.45 106.78" fill="none" stroke="#000" stroke-width="2.6" stroke-linejoin="round" />
<path d="M366.75 105.2 L366.51 105.36 L366.3 105.27 L366.09 105.11 L365.9 104.84 L365.73 105 L365.57 104.76 L365.42 104.68 L365.29 104.46 L365.18 104.6 L365.08 104.56 L364.99 104.42 L364.92 104.42 L364.86 104.2 L364.82 104.56 L364.8 104.47 L364.79 104.53 L364.8 104.26 L364.82 103.96 L364.85 104.1 L364.9 104.06 L364.97 103.86 L365.04 103.93 L365.13 104.26 L365.23 104.31 L365.33 104.11 L365.45 104.31 L365.58 104.09 L365.72 104.44 L365.87 104.26 L366.03 104.07 L366.2 104.39 L366.38 104.48 L366.57 104.13 L366.77 104.52 L366.98 104.11 L367.2 104.34 L367.43 104.21 L367.68 104.48 L367.93 104.56 L368.19 104.76 L368.46 104.95 L368.75 104.44 L369.04 104.98 L369.34 105.13 L369.65 104.66 L369.97 104.99 L370.31 105.04 L370.65 104.9 L371 105.11 L371.36 105.5" fill="none" stroke="#000" stroke-width="2.6" stroke-linejoin="round" />
<path d="M397.24 103.92 L397.11 103.6 L396.98 103.52 L396.87 103.74 L396.76 103.66 L396.66 103.43 L396.57 103.65 L396.5 103.12 L396.43 103.16 L396.37 103.44 L396.33 103.12 L396.29 103.07 L396.26 103.35 L396.24 103.09 L396.24 102.83 L396.24 103.01 L396.25 102.81 L396.28 103.11 L396.31 102.6 L396.36 102.79 L396.41 102.85 L396.47 103.19 L396.54 102.96 L396.62 103.18 L396.71 102.9 L396.81 103.07 L396.91 103.03 L397.02 103 L397.14 103.11 L397.27 103.03 L397.4 102.9 L397.55 103.15 L397.7 102.9 L397.86 102.68 L398.03 102.84 L398.2 102.72 L398.38 103.29 L398.57 102.97 L398.77 103.27 L398.98 102.87 L399.19 103.19 L399.41 103.08 L399.64 103.09 L399.88 103.55 L400.13 103.62 L400.38 103.22 L400.64 103.27 L400.9 103.57 L401.18 103.89 L401.46 103.95 L401.75 103.52" fill="none" stroke="#000" stroke-width="2.6" stroke-linejoin="round" />
<path d="M419.98 98.65 L419.89 98.79 L419.8 98.54 L419.72 98.4 L419.65 98.85 L419.59 98.33 L419.53 98.13 L419.48 98.16 L419.44 98.1 L419.41 98.35 L419.39 98.2 L419.37 98.48 L419.36 98.01 L419.36 98.07 L419.37 98.2 L419.38 98.4 L419.41 98.29 L419.44 98.13 L419.48 97.78 L419.53 98.05 L419.58 97.79 L419.65 98.21 L419.72 98.17 L419.81 98.17 L419.91 98.14 L420.03 97.83 L420.15 98.11 L420.29 98.15 L420.43 97.94 L420.59 98.11 L420.77 97.86 L420.95 98.01 L421.14 97.95 L421.35 98.25 L421.57 98.31 L421.8 98.32 L422.04 98.02 L422.29 98.1 L422.55 98.4 L422.83 98.51 L423.11 98.84 L423.41 98.4 L423.71 98.63 L424.03 98.83 L424.36 99.07 L424.7 98.95 L425.05 98.89 L425.41 99.25 L425.78 99.35 L426.17 99.28 L426.56 99.39" fill="none" stroke="#f00" stroke-width="2.8" stroke-linejoin="round" />
<path d="M431.14 92.19 L430.95 92.06 L430.77 91.77 L430.61 91.48 L430.46 91.6 L430.32 91.76 L430.19 91.54 L430.08 91.5 L429.97 91.08 L429.89 91.36 L429.81 90.82 L429.75 91.21 L429.69 91.24 L429.66 91.29 L429.63 90.95 L429.62 90.9 L429.62 90.7 L429.64 90.75 L429.66 90.81 L429.7 91.1 L429.75 90.53 L429.82 90.96 L429.9 90.96 L429.99 91 L430.09 90.73 L430.21 90.7 L430.34 90.93 L430.48 90.98 L430.63 91.16 L430.8 90.81 L430.97 90.76 L431.16 91.17 L431.37 91.13 L431.58 90.84 L431.81 90.91 L432.05 91.33 L432.3 90.84 L432.57 91.06 L432.84 91.12 L433.13 91.44 L433.43 91.1 L433.74 91.5 L434.06 91.45 L434.4 91.31 L434.75 91.49 L435.11 92 L435.47 92.12 L435.86 92.16 L436.25 92.32 L436.65 91.93 L437.07 92.25" fill="none" stroke="#f00" stroke-width="2.8" stroke-linejoin="round" />
<path d="M442.87 85.31 L442.54 85.24 L442.23 85.02 L441.94 84.93 L441.67 84.63 L441.42 84.71 L441.19 84.32 L440.97 84.23 L440.78 84.12 L440.61 84.11 L440.45 84.4 L440.32 84.16 L440.21 83.83 L440.11 84.08 L440.04 83.88 L439.99 84.07 L439.95 83.63 L439.94 83.91 L439.95 83.86 L439.98 83.55 L440.03 84 L440.1 84.05 L440.19 83.78 L440.3 83.77 L440.42 83.99 L440.57 83.83 L440.74 83.62 L440.93 83.58 L441.14 83.59 L441.37 83.71 L441.62 84.22 L441.88 84.1 L442.17 84.11 L442.48 84.44 L442.8 84.04 L443.15 84.44 L443.51 84.21 L443.9 84.37 L444.3 84.74 L444.72 84.8 L445.16 84.84 L445.62 85.12 L446.09 85.37 L446.59 85.24 L447.1 85.5 L447.63 85.62 L448.18 85.43 L448.74 85.62 L449.33 85.99 L449.93 86.4 L450.54 86.1" fill="none" stroke="#f00" stroke-width="2.8" stroke-linejoin="round" />
<path d="M453.38 78.86 L453.05 78.82 L452.74 78.27 L452.45 78.05 L452.18 78.35 L451.93 78.05 L451.7 77.72 L451.48 77.86 L451.29 77.87 L451.12 77.91 L450.96 77.91 L450.83 77.28 L450.72 77.26 L450.62 77.6 L450.55 77.25 L450.5 77.49 L450.47 77.1 L450.45 77.3 L450.46 77.07 L450.49 77.15 L450.54 77.42 L450.61 77.1 L450.7 77.05 L450.81 77.44 L450.95 77.46 L451.1 77.33 L451.27 77.07 L451.47 76.94 L451.68 77.32 L451.92 77.1 L452.18 77.25 L452.45 77.59 L452.75 77.55 L453.07 77.37 L453.41 77.68 L453.77 77.75 L454.15 77.71 L454.55 78.17 L454.97 78.08 L455.4 78.15 L455.86 78.24 L456.34 78.29 L456.84 78.69 L457.35 78.7 L457.89 78.85 L458.44 79.23 L459.01 78.95 L459.6 79.01 L460.21 79.43 L460.84 79.7 L461.48 79.91" fill="none" stroke="#f00" stroke-width="2.8" stroke-linejoin="round" />
<clipPath id="cd"><rect x="328.4" y="199.9" width="218.89999999999998" height="169.29999999999998"/></clipPath>
<g clip-path="url(#cd)">
<path d="M371.91 326.88 L372.61 328.74 L373.57 326.38 L374.73 325.72 L375.31 327.49 L376.63 326.67 L376.77 328.8 L377.6 327.04 L378.96 328.86 L379.68 326.47 L380.49 326.9 L381.23 328.58 L382.45 328.05 L383.1 327.83 L384.58 326.44 L385.5 326.61 L386.15 328.71 L386.78 328.68 L387.58 327.1 L388.97 327.63 L389 326.18 L390.34 326.79 L390.76 328.31 L391.89 328.59 L392.8 326.29 L393.73 328.34 L395.07 327.5 L395.31 327.39 L396.2 326.86 L396.83 325.76 L398.59 328.16 L398.8 327.67 L399.48 328.35 L400.9 328 L401.6 327.09 L402.85 326.72 L403.01 326.07 L404.69 326.59 L404.75 327.51 L405.68 327.07 L407.18 326.45 L407.71 328.68 L409.02 328.48 L409.09 328.81 L410.47 326.18 L411.75 326.09 L412.62 325.8 L412.63 327.21 L414.01 327.57 L415.08 326.05 L415.87 326.73 L416.96 327.7 L417.58 326.12 L418.67 326.63 L418.87 327.05 L420.29 326.73 L420.87 327.63 L421.53 326.08 L422.56 327.98 L423.69 326.38 L424.54 328.38 L425.46 326.29 L425.7 328.85 L427.22 326.57 L428.12 327.56 L428.89 326.85 L429.8 326.92 L430.4 326.74 L431.61 328.45 L432.06 325.94 L432.9 328.12 L433.87 325.73 L435.21 327.09 L435.34 328.09 L436.64 328.41 L437.82 328.34 L438.74 326.93 L439.55 327.28 L440.27 326.39 L441.12 325.94 L442.22 326.27 L442.81 328.39 L443.94 328.44 L444.42 325.92 L445.83 326.68 L446.59 327.01 L447.06 327.43 L448.03 328.2 L448.95 326.24 L449.77 326 L450.95 326.26 L451.36 327.58 L452.21 328.54 L453.52 326.72 L454.04 328.01 L454.99 327.66 L455.7 327.43 L456.82 328.47 L457.46 328.14 L458.2 326.49 L459.1 328.52 L459.84 326.45 L461.07 327.79 L462.13 325.89 L462.74 327.79 L463.38 325.86 L464.91 325.45 L465.07 326.03 L466.67 326.53 L467.15 327.13 L468.47 325.51 L468.67 326.66 L469.98 325.78 L470.65 327.16 L471.17 326.38 L472.04 328.22 L472.87 325.8 L474.32 326.01 L475.16 326.35 L476.43 327.06 L476.69 325.8 L477.69 327.68 L478.79 327.45 L479.47 328.17 L480.23 326.91 L481.64 327.67 L482.05 327.67 L483.21 326.05 L483.73 327.52 L484.58 326.2 L485.61 325.31 L486.22 328.2 L487.08 327.61 L487.72 326 L489.08 326 L490.37 328.05 L490.62 325.4 L492.09 327.49 L492.58 325.12 L492.97 327.12 L494.49 326.39 L495.03 325.77 L495.94 326.21 L497.04 326.18 L497.65 325.56 L498.84 327.82 L499.25 327.27 L500.57 325.53 L500.96 327.45 L501.84 325.14 L502.66 327.35 L503.81 324.73 L504.59 326.37 L505.65 325.16 L506.88 326.9 L507.21 325.68 L508.06 324.71 L509.28 325.5 L510.2 327.29 L510.75 325.51 L511.66 326.1 L512.23 325.81 L513.36 324.9 L514.74 326.76 L515.28 324.75 L516.38 325.71 L517.4 326.55 L517.66 326.87 L518.87 325.58 L519.94 325.49 L520.19 324.56 L521.52 325.28 L521.95 324.54 L523.42 325.26 L524.37 327.21 L525.21 325.05 L526.2 326.31 L526.98 327.21 L527.35 325.49 L528.78 325.2 L528.89 324.38 L530.2 325.22 L531.45 324.26 L531.8 326.49 L532.87 326.86 L533.79 326.97 L534.97 326.92 L535.49 325.42 L536.29 324.83 L536.9 325.77 L537.95 325.34 L538.49 327.22 L539.6 325.6 L540.49 325.82 L541.78 327.03 L542.48 327.01 L543.13 325.51 L543.98 327.07 L544.65 324.68 L546.14 324.71 L546.34 325.11 L547.59 325.37" fill="none" stroke="#f00" stroke-width="4.8" stroke-linejoin="round" />
<path d="M367.73 353.39 L368.66 352.77 L369.78 352.96 L370.31 355.48 L371.93 353.5 L372.42 352.49 L372.74 353.98 L374.62 352.42 L374.96 354.99 L375.36 354.25 L376.5 354.85 L377.98 355.31 L378.81 352.45 L379.55 354.15 L380.04 352.86 L381.1 353.66 L381.9 355.57 L382.59 355.22 L383.37 354.62 L384.56 353.55 L385.48 352.62 L386.07 353.62 L386.92 355.18 L388.33 354.4 L389.21 352.72 L389.34 352.42 L391.16 353.89 L392.13 353.3 L392.37 354.47 L393.74 353.68 L394.22 353.42 L394.83 355.4 L396.43 353.71 L396.47 355.27 L397.7 354.83 L398.52 352.43 L399.75 352.52" fill="none" stroke="#f00" stroke-width="5.4" stroke-linejoin="round" />
<path d="M400.14 351.58 L400.14 326.7" fill="none" stroke="#f00" stroke-width="2.0" stroke-linejoin="round" />
<path d="M368.2 351.79 L366.62 351.23 L365.24 351.31 L363.85 349.32 L362.5 347.55 L361.36 345.86 L360.13 344.15 L358.69 341.83 L357.55 337.97 L356.14 335.2 L354.56 331.71 L353.16 327.63 L352.2 323.39 L350.78 318.89 L349.32 313.33 L347.98 308.54 L346.83 303.98 L345.56 297.59 L344.19 292.49 L342.49 285.82 L341.19 278.74 L340.01 272.92 L338.56 265.43 L337.36 258.53 L335.87 250.54 L334.49 243.02 L333.57 234.86 L332.14 227.29 L330.85 219.04 L329.18 209.66 L328.17 201.15" fill="none" stroke="#f00" stroke-width="2.4" stroke-linejoin="round" />
<path d="M368.17 346.22 L366.83 346.5 L365.48 346.2 L363.96 345.27 L362.49 344.73 L361.51 342.97 L360.08 341.49 L358.66 338.97 L357.42 337.96 L356.18 335.43 L354.55 332.28 L353.27 329.95 L352.19 327.14 L350.73 323.79 L349.22 320.28 L348.23 317.7 L346.76 313.73 L345.25 308.95 L343.83 304.91 L342.57 302.03 L341.4 296.57 L339.86 291.7 L338.49 287.11 L337.3 282.2 L335.92 277.74 L334.54 271.77 L333.48 266.52 L332.09 260.9 L330.78 254.72 L329.27 249.95 L327.95 243.5" fill="none" stroke="#f00" stroke-width="2.4" stroke-linejoin="round" />
<path d="M367.9 344.98 L367.09 345.34 L366.03 345.11 L365.3 344.37 L364.55 344.46 L363.5 342.85 L362.76 342.55 L361.75 341.28 L360.79 340.24 L359.99 339.1 L358.98 336.55 L358.32 335.7 L357.4 334.24 L356.49 331.9 L355.63 330.34 L354.54 327.68 L353.52 325.63 L352.72 323.52 L351.95 322.04 L351.03 319.16 L349.9 316.63 L349.22 314.07 L348.25 311.1 L347.42 308.41 L346.49 305.48 L345.78 301.98 L344.73 299.04 L343.84 296.12 L343.12 292.07 L342.12 288.04 L341.31 285.17" fill="none" stroke="#f00" stroke-width="2.4" stroke-linejoin="round" />
<path d="M367.82 351.57 L367.68 352.56 L367.09 351.82 L366.45 351.61 L366.24 351.4 L365.39 350.29 L364.92 350.61 L364.75 350.01 L364.09 348.38 L363.44 347.45 L363.07 346.7 L362.58 346.17 L362.31 344.59 L361.81 343.31 L361.09 342.78 L360.53 340.46 L360.42 339.63 L359.69 338.6 L359.4 336.52 L358.88 334.59 L358.42 333.33 L357.72 331.05 L357.1 329.78 L356.63 328.3 L356.52 325.86 L355.93 324.28 L355.38 322.5 L354.84 320.45 L354.21 318.06 L353.88 315.14 L353.27 313.88" fill="none" stroke="#f00" stroke-width="2.4" stroke-linejoin="round" />
<path d="M368.08 342.84 L366.69 343.02 L365.41 341.37 L364.21 341.08 L362.81 339.36 L361.43 336.95 L360.22 335.31 L358.55 332.94 L357.33 329.08 L356.18 326.21 L354.66 322.63 L353.37 319.58 L352.16 316.21 L350.85 311.58 L349.32 307.46 L347.91 301.83 L346.72 296.89 L345.39 291.26 L343.92 285.59 L342.67 280.12 L341.5 274.11 L339.9 268.47 L338.57 262.12 L337.38 254.38 L336.12 248.58 L334.62 240.72 L333.39 233.8 L332.24 224.84 L330.65 217.94 L329.33 209.36 L328.06 200.26" fill="none" stroke="#f00" stroke-width="2.4" stroke-linejoin="round" />
<path d="M367.83 368.95 L366.64 366.62 L365.38 364.42 L364.19 360.33 L362.74 356.67 L361.37 353.93 L360.01 349.14 L358.84 345.19 L357.53 340.34 L355.94 335.7 L354.69 329.7 L353.2 325.82 L352.09 319.14 L350.8 314.6 L349.17 309.23 L347.89 302.71 L346.78 296.71 L345.3 290.58 L344.08 285.01 L342.86 278.7 L341.49 271.5 L339.97 265.51 L338.87 257.95 L337.48 251.2 L335.84 244.46 L334.87 237.53 L333.5 230.84 L332.16 222.86 L330.87 215.25 L329.37 207.85 L327.99 201.48" fill="none" stroke="#f00" stroke-width="2.4" stroke-linejoin="round" />
<circle cx="403.4" cy="323.5" r="2" fill="#f00"/>
<path d="M368.02 326.7 L547.19 326.36" fill="none" stroke="#000" stroke-width="1.5" stroke-linejoin="round" />
<path d="M368.02 351.92 L400.14 351.92 L400.14 326.7" fill="none" stroke="#000" stroke-width="1.4" stroke-linejoin="round" />
<path d="M368.02 351.58 L366.69 351.25 L365.35 350.43 L364.02 349.2 L362.69 347.58 L361.36 345.59 L360.02 343.27 L358.69 340.61 L357.36 337.63 L356.02 334.33 L354.69 330.73 L353.36 326.83 L352.03 322.63 L350.69 318.15 L349.36 313.37 L348.03 308.32 L346.69 302.99 L345.36 297.39 L344.03 291.52 L342.7 285.38 L341.36 278.98 L340.03 272.31 L338.7 265.39 L337.36 258.21 L336.03 250.77 L334.7 243.09 L333.37 235.15 L332.03 226.97 L330.7 218.54 L329.37 209.86 L328.03 200.94" fill="none" stroke="#000" stroke-width="1.3" stroke-linejoin="round" />
<path d="M368.02 351.58 L366.69 351.34 L365.35 350.76 L364.02 349.87 L362.69 348.7 L361.36 347.28 L360.02 345.61 L358.69 343.7 L357.36 341.55 L356.02 339.18 L354.69 336.6 L353.36 333.79 L352.03 330.77 L350.69 327.55 L349.36 324.12 L348.03 320.49 L346.69 316.66 L345.36 312.63 L344.03 308.41 L342.7 304 L341.36 299.4 L340.03 294.61 L338.7 289.63 L337.36 284.47 L336.03 279.13 L334.7 273.6 L333.37 267.9 L332.03 262.01 L330.7 255.95 L329.37 249.72 L328.03 243.31" fill="none" stroke="#000" stroke-width="1.3" stroke-linejoin="round" />
<path d="M368.02 351.58 L367.53 351.5 L367.04 351.29 L366.56 350.97 L366.07 350.56 L365.58 350.06 L365.09 349.47 L364.6 348.79 L364.12 348.03 L363.63 347.19 L363.14 346.28 L362.65 345.28 L362.16 344.22 L361.68 343.07 L361.19 341.86 L360.7 340.57 L360.21 339.22 L359.72 337.79 L359.24 336.3 L358.75 334.74 L358.26 333.11 L357.77 331.41 L357.28 329.65 L356.8 327.82 L356.31 325.93 L355.82 323.97 L355.33 321.95 L354.84 319.87 L354.36 317.73 L353.87 315.52 L353.38 313.25" fill="none" stroke="#000" stroke-width="1.3" stroke-linejoin="round" />
<path d="M368.02 368.39 L366.69 366.7 L365.35 364.07 L364.02 360.92 L362.69 357.37 L361.36 353.49 L360.02 349.33 L358.69 344.92 L357.36 340.28 L356.02 335.43 L354.69 330.4 L353.36 325.18 L352.03 319.79 L350.69 314.24 L349.36 308.55 L348.03 302.7 L346.69 296.72 L345.36 290.61 L344.03 284.37 L342.7 278.01 L341.36 271.53 L340.03 264.93 L338.7 258.23 L337.36 251.42 L336.03 244.5 L334.7 237.48 L333.37 230.36 L332.03 223.14 L330.7 215.83 L329.37 208.43 L328.03 200.94" fill="none" stroke="#000" stroke-width="1.3" stroke-linejoin="round" />
<path d="M328.03 200.94 L329.37 209.34 L330.7 217.51 L332.03 225.46 L333.37 233.16 L334.7 240.64 L336.03 247.88 L337.36 254.88 L338.7 261.65 L340.03 268.17 L341.36 274.45 L342.7 280.48 L344.03 286.26 L345.36 291.79 L346.69 297.07 L348.03 302.09 L349.36 306.85 L350.69 311.34 L352.03 315.57 L353.36 319.52 L354.69 323.2 L356.02 326.59 L357.36 329.7 L358.69 332.5 L360.02 335.01 L361.36 337.2 L362.69 339.07 L364.02 340.59 L365.35 341.76 L366.69 342.53 L368.02 342.84 L368.02 342.84 L368.68 339.51 L369.33 336.87 L369.99 334.78 L370.64 333.11 L371.3 331.79 L371.95 330.74 L372.61 329.91 L373.26 329.25 L373.92 328.72 L374.57 328.31 L375.23 327.97 L375.89 327.71 L376.54 327.5 L377.2 327.34 L377.85 327.21 L378.51 327.1 L379.16 327.02 L379.82 326.95 L380.47 326.9 L381.13 326.86 L381.79 326.83 L382.44 326.8 L383.1 326.78 L383.75 326.76 L384.41 326.75 L385.06 326.74 L385.72 326.73 L386.37 326.73 L387.03 326.72 L387.69 326.72 L388.34 326.71 L389 326.71 L389.65 326.71 L390.31 326.71 L390.96 326.71 L391.62 326.7 L392.27 326.7 L392.93 326.7 L393.58 326.7" fill="none" stroke="#000" stroke-width="1.4" stroke-linejoin="round" />
<path d="M378.29 351.92 L378.29 341.5 L378.29 341.5 L378.94 338.22 L379.6 335.67 L380.26 333.69 L380.91 332.14 L381.57 330.94 L382.22 330 L382.88 329.27 L383.53 328.7 L384.19 328.26 L384.84 327.91 L385.5 327.65 L386.16 327.44 L386.81 327.27 L387.47 327.15 L388.12 327.05 L388.78 326.97 L389.43 326.91 L390.09 326.86 L390.74 326.83 L391.4 326.8 L392.06 326.78 L392.71 326.76 L393.37 326.75 L394.02 326.74" fill="none" stroke="#000" stroke-width="1.4" stroke-linejoin="round" />
</g>
<line x1="368" y1="199.9" x2="368" y2="369.2" stroke="#6060d0" stroke-width="1.2" stroke-dasharray="3 0.7"/>
<rect x="328.4" y="199.9" width="218.9" height="169.3" fill="none" stroke="#000" stroke-width="1.3"/>
<line x1="341.8" y1="369.2" x2="341.8" y2="366" stroke="#000" stroke-width="1.0" />
<line x1="341.8" y1="199.9" x2="341.8" y2="203.1" stroke="#000" stroke-width="1.0" />
<line x1="385.5" y1="369.2" x2="385.5" y2="366" stroke="#000" stroke-width="1.0" />
<line x1="385.5" y1="199.9" x2="385.5" y2="203.1" stroke="#000" stroke-width="1.0" />
<line x1="429.2" y1="369.2" x2="429.2" y2="366" stroke="#000" stroke-width="1.0" />
<line x1="429.2" y1="199.9" x2="429.2" y2="203.1" stroke="#000" stroke-width="1.0" />
<line x1="472.9" y1="369.2" x2="472.9" y2="366" stroke="#000" stroke-width="1.0" />
<line x1="472.9" y1="199.9" x2="472.9" y2="203.1" stroke="#000" stroke-width="1.0" />
<line x1="516.6" y1="369.2" x2="516.6" y2="366" stroke="#000" stroke-width="1.0" />
<line x1="516.6" y1="199.9" x2="516.6" y2="203.1" stroke="#000" stroke-width="1.0" />
<line x1="328.4" y1="225.82" x2="331.6" y2="225.82" stroke="#000" stroke-width="1.0" />
<line x1="547.3" y1="225.82" x2="544.1" y2="225.82" stroke="#000" stroke-width="1.0" />
<line x1="328.4" y1="259.45" x2="331.6" y2="259.45" stroke="#000" stroke-width="1.0" />
<line x1="547.3" y1="259.45" x2="544.1" y2="259.45" stroke="#000" stroke-width="1.0" />
<line x1="328.4" y1="293.07" x2="331.6" y2="293.07" stroke="#000" stroke-width="1.0" />
<line x1="547.3" y1="293.07" x2="544.1" y2="293.07" stroke="#000" stroke-width="1.0" />
<line x1="328.4" y1="326.7" x2="331.6" y2="326.7" stroke="#000" stroke-width="1.0" />
<line x1="547.3" y1="326.7" x2="544.1" y2="326.7" stroke="#000" stroke-width="1.0" />
<line x1="328.4" y1="360.32" x2="331.6" y2="360.32" stroke="#000" stroke-width="1.0" />
<line x1="547.3" y1="360.32" x2="544.1" y2="360.32" stroke="#000" stroke-width="1.0" />
<text x="370.1" y="222.3" font-size="12.4" text-anchor="start" fill="#000" stroke="#000" transform="rotate(90 370.1 222.3)">Mech. Contact</text>
<rect x="486.3" y="203.3" width="57.7" height="30.9" fill="#fff" stroke="#888" stroke-width="0.8"/>
<line x1="490.3" y1="211.8" x2="510.3" y2="211.8" stroke="#f00" stroke-width="1.3" />
<line x1="490.3" y1="226.3" x2="510.3" y2="226.3" stroke="#000" stroke-width="1.3" />
<text x="513.3" y="216" font-size="12.3" text-anchor="start" fill="#000" stroke="#000" >DQM</text>
<text x="513.3" y="230.5" font-size="12.6" text-anchor="start" fill="#000" stroke="#000" >FE</text>
</svg></body></html>
